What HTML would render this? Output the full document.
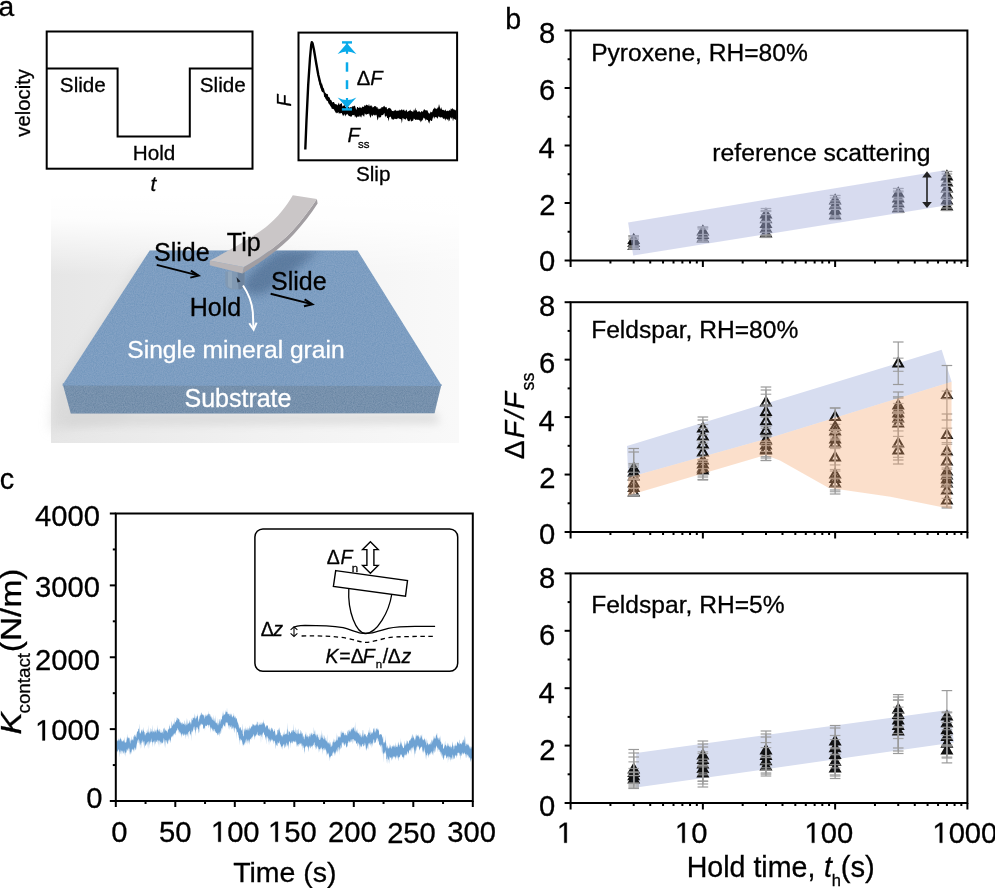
<!DOCTYPE html>
<html><head><meta charset="utf-8"><style>
html,body{margin:0;padding:0;background:#fff;}
body{width:995px;height:888px;overflow:hidden;}
svg{display:block;font-family:"Liberation Sans", sans-serif;will-change:transform;}
text{stroke:#000;stroke-width:0.3px;}
text[fill="#fff"]{stroke:#fff;}
path.one{stroke:#000;stroke-width:0.3px;}
</style></head><body>
<svg width="995" height="888" viewBox="0 0 995 888">
<text x="-1.40" y="15.90" font-size="28.2" fill="#000" >a</text>
<rect x="46.7" y="31.5" width="205.8" height="137.2" fill="none" stroke="#000" stroke-width="2"/>
<polyline points="46.70,68.40 117.60,68.40 117.60,136.40 189.80,136.40 189.80,68.40 252.50,68.40" fill="none" stroke="#000" stroke-width="2" stroke-linejoin="miter"/>
<text x="59.86" y="92.00" font-size="20.7" fill="#000" >Slide</text>
<text x="132.70" y="160.10" font-size="20.7" fill="#000" >Hold</text>
<text x="199.76" y="92.20" font-size="20.7" fill="#000" >Slide</text>
<text x="150.46" y="190.60" font-size="20.7" fill="#000" font-style="italic" >t</text>
<text transform="translate(30.10,136.67) rotate(-90) scale(0.9939,1)" font-size="20.4" fill="#000">velocity</text>
<rect x="298.5" y="32.6" width="158.6" height="127.7" fill="none" stroke="#000" stroke-width="2"/>
<polyline points="305.30,149.50 306.50,120.00 308.20,85.00 310.00,58.00 311.20,45.00 311.80,42.20 312.60,43.50 314.00,50.00 316.00,62.00 318.30,75.00 320.50,84.00 323.00,91.00" fill="none" stroke="#000" stroke-width="2.4" stroke-linejoin="round"/>
<polygon points="313.0,43.5 313.7,45.8 314.4,51.5 315.1,55.3 315.8,60.2 316.5,64.0 317.2,67.2 317.9,72.2 318.6,76.0 319.3,78.4 320.0,79.4 320.7,81.9 321.4,84.3 322.1,83.4 322.8,87.2 323.5,87.9 324.2,89.6 324.9,92.3 325.6,93.0 326.3,93.8 327.0,94.1 327.7,93.9 328.4,97.0 329.1,97.1 329.8,98.0 330.5,100.1 331.2,100.0 331.9,101.4 332.6,102.4 333.3,102.1 334.0,102.0 334.7,103.7 335.4,104.0 336.1,104.6 336.8,104.2 337.5,105.4 338.2,104.1 338.9,102.5 339.6,105.0 340.3,103.9 341.0,103.4 341.7,103.0 342.4,106.6 343.1,105.9 343.8,105.5 344.5,104.6 345.2,107.0 345.9,106.8 346.6,105.8 347.3,106.1 348.0,106.8 348.7,107.2 349.4,107.7 350.1,107.5 350.8,107.1 351.5,107.6 352.2,106.3 352.9,106.6 353.6,106.3 354.3,105.7 355.0,105.7 355.7,108.3 356.4,109.9 357.1,107.0 357.8,107.0 358.5,108.1 359.2,107.9 359.9,106.5 360.6,107.7 361.3,108.3 362.0,107.0 362.7,106.5 363.4,107.1 364.1,106.5 364.8,104.8 365.5,105.9 366.2,104.8 366.9,104.7 367.6,105.2 368.3,106.1 369.0,103.7 369.7,106.4 370.4,105.2 371.1,106.5 371.8,105.1 372.5,107.6 373.2,107.3 373.9,106.8 374.6,106.0 375.3,106.3 376.0,106.3 376.7,107.5 377.4,107.1 378.1,109.5 378.8,108.3 379.5,109.2 380.2,108.0 380.9,109.0 381.6,107.0 382.3,107.0 383.0,107.4 383.7,106.0 384.4,105.7 385.1,107.6 385.8,106.9 386.5,106.9 387.2,109.6 387.9,108.7 388.6,108.1 389.3,107.8 390.0,108.5 390.7,108.6 391.4,109.7 392.1,111.0 392.8,111.1 393.5,111.3 394.2,109.9 394.9,110.9 395.6,109.4 396.3,111.3 397.0,110.3 397.7,111.0 398.4,110.6 399.1,110.8 399.8,109.5 400.5,110.5 401.2,109.9 401.9,108.9 402.6,110.5 403.3,110.1 404.0,109.2 404.7,111.0 405.4,111.3 406.1,109.6 406.8,110.3 407.5,112.3 408.2,110.9 408.9,111.2 409.6,110.6 410.3,109.5 411.0,111.3 411.7,111.0 412.4,111.6 413.1,112.1 413.8,109.6 414.5,110.9 415.2,107.5 415.9,110.8 416.6,109.8 417.3,111.9 418.0,111.5 418.7,111.6 419.4,110.9 420.1,112.4 420.8,112.1 421.5,110.9 422.2,111.6 422.9,111.7 423.6,110.0 424.3,108.9 425.0,110.3 425.7,110.3 426.4,110.4 427.1,109.9 427.8,111.3 428.5,113.0 429.2,113.6 429.9,113.5 430.6,111.5 431.3,111.9 432.0,112.4 432.7,110.4 433.4,108.7 434.1,108.7 434.8,107.2 435.5,108.8 436.2,108.4 436.9,109.2 437.6,107.6 438.3,107.6 439.0,104.1 439.7,106.6 440.4,109.5 441.1,107.1 441.8,109.2 442.5,109.9 443.2,109.8 443.9,110.3 444.6,110.7 445.3,109.3 446.0,110.7 446.7,111.3 447.4,110.7 448.1,110.6 448.8,111.2 449.5,109.8 450.2,110.9 450.9,108.2 451.6,109.5 452.3,107.7 453.0,109.6 453.7,109.2 454.4,109.5 455.1,110.5 455.8,110.0 456.5,107.8 456.5,117.7 455.8,120.1 455.1,119.6 454.4,118.9 453.7,118.6 453.0,121.6 452.3,117.2 451.6,119.1 450.9,116.9 450.2,118.3 449.5,120.4 448.8,121.5 448.1,118.6 447.4,120.3 446.7,118.9 446.0,118.4 445.3,120.7 444.6,118.5 443.9,118.6 443.2,119.0 442.5,117.6 441.8,117.3 441.1,117.3 440.4,117.4 439.7,117.3 439.0,116.5 438.3,116.5 437.6,119.0 436.9,117.2 436.2,117.6 435.5,116.9 434.8,117.2 434.1,118.9 433.4,116.3 432.7,118.2 432.0,120.9 431.3,120.9 430.6,119.9 429.9,121.0 429.2,123.7 428.5,122.0 427.8,119.9 427.1,119.9 426.4,119.2 425.7,121.0 425.0,118.5 424.3,118.4 423.6,117.6 422.9,119.5 422.2,120.6 421.5,120.8 420.8,122.5 420.1,120.3 419.4,120.4 418.7,120.0 418.0,119.4 417.3,120.0 416.6,119.6 415.9,120.0 415.2,119.8 414.5,119.0 413.8,118.5 413.1,120.8 412.4,120.7 411.7,121.3 411.0,121.6 410.3,119.0 409.6,121.2 408.9,120.9 408.2,121.3 407.5,120.2 406.8,118.2 406.1,118.5 405.4,120.1 404.7,118.7 404.0,119.4 403.3,118.2 402.6,118.1 401.9,123.4 401.2,119.5 400.5,119.0 399.8,118.9 399.1,118.5 398.4,118.3 397.7,118.5 397.0,118.7 396.3,119.3 395.6,118.7 394.9,119.2 394.2,118.6 393.5,120.0 392.8,118.9 392.1,119.7 391.4,118.6 390.7,116.5 390.0,116.9 389.3,117.2 388.6,121.5 387.9,118.0 387.2,118.1 386.5,115.7 385.8,116.1 385.1,117.5 384.4,113.1 383.7,114.0 383.0,115.3 382.3,114.9 381.6,114.9 380.9,117.3 380.2,117.3 379.5,117.7 378.8,116.5 378.1,118.9 377.4,120.5 376.7,115.5 376.0,114.6 375.3,115.4 374.6,115.5 373.9,114.6 373.2,114.9 372.5,116.4 371.8,114.5 371.1,116.3 370.4,118.1 369.7,115.7 369.0,113.2 368.3,114.2 367.6,113.9 366.9,114.2 366.2,114.7 365.5,114.2 364.8,113.2 364.1,116.9 363.4,115.8 362.7,115.4 362.0,114.6 361.3,117.6 360.6,116.9 359.9,115.2 359.2,117.0 358.5,116.5 357.8,116.7 357.1,116.5 356.4,118.2 355.7,116.1 355.0,117.4 354.3,114.7 353.6,115.2 352.9,115.1 352.2,115.2 351.5,116.8 350.8,116.5 350.1,116.6 349.4,116.1 348.7,115.7 348.0,115.0 347.3,113.8 346.6,114.4 345.9,115.0 345.2,116.5 344.5,114.0 343.8,114.9 343.1,116.3 342.4,114.4 341.7,113.1 341.0,113.1 340.3,113.6 339.6,113.3 338.9,113.8 338.2,111.7 337.5,113.3 336.8,112.6 336.1,113.6 335.4,112.1 334.7,111.0 334.0,109.6 333.3,109.1 332.6,108.7 331.9,109.0 331.2,107.1 330.5,106.2 329.8,105.0 329.1,104.0 328.4,103.3 327.7,100.8 327.0,101.3 326.3,99.7 325.6,98.9 324.9,97.2 324.2,97.1 323.5,92.7 322.8,92.2 322.1,91.9 321.4,90.1 320.7,88.2 320.0,85.5 319.3,83.2 318.6,80.0 317.9,76.0 317.2,72.0 316.5,68.1 315.8,64.4 315.1,59.8 314.4,55.1 313.7,49.6 313.0,48.4" fill="#000"/>
<line x1="347.00" y1="62.30" x2="347.00" y2="71.70" stroke="#0aabea" stroke-width="2.5" />
<line x1="347.00" y1="80.20" x2="347.00" y2="89.10" stroke="#0aabea" stroke-width="2.5" />
<line x1="342.00" y1="42.40" x2="352.00" y2="42.40" stroke="#0aabea" stroke-width="2.4" />
<line x1="341.90" y1="109.40" x2="352.00" y2="109.40" stroke="#0aabea" stroke-width="2.4" />
<line x1="347.00" y1="43.00" x2="347.00" y2="53.80" stroke="#0aabea" stroke-width="2.2" />
<line x1="347.00" y1="98.00" x2="347.00" y2="109.00" stroke="#0aabea" stroke-width="2.2" />
<path d="M347.0,43.2 Q351.6,48.6 356.4,53.9 Q351.0,51.2 347.0,51.4 Q343.0,51.2 337.6,53.9 Q342.4,48.6 347.0,43.2 Z" fill="#0aabea"/>
<path d="M347.0,108.2 Q351.6,102.8 356.4,97.6 Q351.0,100.3 347.0,100.1 Q343.0,100.3 337.6,97.6 Q342.4,102.8 347.0,108.2 Z" fill="#0aabea"/>
<text x="356.70" y="84.80" font-size="20.2" fill="#000" >Δ</text>
<text x="370.28" y="84.80" font-size="20.2" fill="#000" font-style="italic" >F</text>
<text x="347.38" y="141.60" font-size="20.2" fill="#000" font-style="italic" >F</text>
<text x="357.88" y="148.00" font-size="11.5" fill="#000" >ss</text>
<text x="355.96" y="181.00" font-size="20.7" fill="#000" >Slip</text>
<text transform="translate(290.80,106.39) rotate(-90) scale(0.9554,1)" font-size="20.2" fill="#000" font-style="italic">F</text>
<defs>
<linearGradient id="bgH" x1="0" y1="0" x2="1" y2="0">
 <stop offset="0" stop-color="#e6e6e6"/><stop offset="0.5" stop-color="#f1f1f1"/><stop offset="1" stop-color="#f9f9f9"/>
</linearGradient>
<linearGradient id="bgV" x1="0" y1="0" x2="0" y2="1">
 <stop offset="0" stop-color="#ffffff" stop-opacity="1"/><stop offset="0.3" stop-color="#ffffff" stop-opacity="0.9"/><stop offset="1" stop-color="#ffffff" stop-opacity="0"/>
</linearGradient>
<clipPath id="slabTop"><polygon points="149.7,250.5 357.5,250.5 441.9,385.9 62.2,385.6"/></clipPath>
<filter id="blur6" x="-50%" y="-50%" width="200%" height="200%"><feGaussianBlur stdDeviation="6"/></filter>
<filter id="blur4" x="-50%" y="-50%" width="200%" height="200%"><feGaussianBlur stdDeviation="4"/></filter>
<filter id="blur2" x="-50%" y="-50%" width="200%" height="200%"><feGaussianBlur stdDeviation="2"/></filter>
<filter id="grain" x="0" y="0" width="100%" height="100%">
 <feTurbulence type="fractalNoise" baseFrequency="0.9" numOctaves="2" seed="4" result="n"/>
 <feColorMatrix in="n" type="matrix" values="0 0 0 0 0.5  0 0 0 0 0.6  0 0 0 0 0.75  0 0 0 0.35 0" result="c"/>
 <feComposite in="c" in2="SourceGraphic" operator="in" result="g"/>
 <feMerge><feMergeNode in="SourceGraphic"/><feMergeNode in="g"/></feMerge>
</filter>
</defs>
<rect x="51" y="195" width="408" height="248" fill="url(#bgH)"/>
<rect x="51" y="195" width="408" height="80" fill="url(#bgV)"/>
<polygon points="140,262 150,258 300,258 300,300 120,420 50,430 55,390" fill="#d0d0d0" filter="url(#blur6)" opacity="0.55"/>
<polygon points="70,412 436,412 440,424 64,426" fill="#d6d6d6" filter="url(#blur4)" opacity="0.7"/>
<polygon points="62.6,383.6 441.5,383.9 434.5,413.2 70.8,413.6" fill="#61809f" filter="url(#grain)"/>
<polygon points="149.7,250.5 357.5,250.5 441.9,385.9 62.2,385.6" fill="#6a92ba" filter="url(#grain)"/>
<path d="M244,282 C252,270 266,258 282,250 L318,251 C305,262 290,276 270,290 C260,296 250,296 244,290 Z" fill="#2c476a" opacity="0.38" filter="url(#blur4)" clip-path="url(#slabTop)"/>
<path d="M225.3,271.5 L244.6,271.5 L244.6,283.5 Q244.6,289.6 235,289.6 Q225.3,289.6 225.3,283.5 Z" fill="#8199b3"/>
<path d="M237.5,271.5 L244.6,271.5 L244.6,283.5 Q244.6,289.2 238.5,289.5 Z" fill="#6d849f"/>
<path d="M228,271.5 L232,271.5 L232,288.5 Q229,288 228,286 Z" fill="#97abc1" opacity="0.7"/>
<path d="M236.5,277 L240.5,281.5 L237.5,282.5 Z" fill="#1e2530"/>
<path d="M243.8,267.1 C262,257 280,244 293,230 C302,220 310,209 316.9,198.9 L317.6,203.5 C311,214 303,224 294,234 C281,248 263,261 242.5,273.6 Z" fill="#a29ea2"/>
<path d="M209.8,260.6 L243.8,267.1 L242.5,273.6 L209.8,265.2 Z" fill="#b9b5b7"/>
<path d="M209.8,260.6 C228,251 250,239 266,227 C278,217 286,207 292.8,195.2 L316.9,198.9 C310,209 302,220 293,230 C280,244 262,257 243.8,267.1 Z" fill="#cac6c7"/>
<text x="226.84" y="250.80" font-size="25.0" fill="#000" >Tip</text>
<text x="154.06" y="261.00" font-size="25.0" fill="#000" >Slide</text>
<text x="270.96" y="289.60" font-size="25.0" fill="#000" >Slide</text>
<text x="189.75" y="315.60" font-size="25.0" fill="#000" >Hold</text>
<text x="127.28" y="358.10" font-size="24.6" fill="#fff" >Single mineral grain</text>
<text x="184.46" y="406.80" font-size="25.0" fill="#fff" >Substrate</text>
<line x1="156.70" y1="264.90" x2="198.00" y2="275.40" stroke="#000" stroke-width="2.0" />
<polyline points="190.90,270.60 198.60,275.60 190.30,277.60" fill="none" stroke="#000" stroke-width="2.0" />
<line x1="270.60" y1="293.70" x2="311.80" y2="304.10" stroke="#000" stroke-width="2.0" />
<polyline points="304.60,299.30 312.40,304.30 304.00,306.30" fill="none" stroke="#000" stroke-width="2.0" />
<path d="M243,285.5 Q251.5,298 252.8,312 L253.5,328.5" fill="none" stroke="#fff" stroke-width="2"/>
<polyline points="249.30,323.30 253.60,329.70 256.60,322.60" fill="none" stroke="#fff" stroke-width="2" />
<text x="505.26" y="29.00" font-size="28.6" fill="#000" >b</text>
<line x1="564.60" y1="260.50" x2="570.60" y2="260.50" stroke="#000" stroke-width="2" />
<line x1="567.60" y1="231.75" x2="570.60" y2="231.75" stroke="#000" stroke-width="2" />
<line x1="564.60" y1="203.00" x2="570.60" y2="203.00" stroke="#000" stroke-width="2" />
<line x1="567.60" y1="174.25" x2="570.60" y2="174.25" stroke="#000" stroke-width="2" />
<line x1="564.60" y1="145.50" x2="570.60" y2="145.50" stroke="#000" stroke-width="2" />
<line x1="567.60" y1="116.75" x2="570.60" y2="116.75" stroke="#000" stroke-width="2" />
<line x1="564.60" y1="88.00" x2="570.60" y2="88.00" stroke="#000" stroke-width="2" />
<line x1="567.60" y1="59.25" x2="570.60" y2="59.25" stroke="#000" stroke-width="2" />
<line x1="564.60" y1="30.50" x2="570.60" y2="30.50" stroke="#000" stroke-width="2" />
<text x="538.90" y="270.54" font-size="29.2" fill="#000" >0</text>
<text x="539.23" y="215.14" font-size="29.2" fill="#000" >2</text>
<text x="538.62" y="157.64" font-size="29.2" fill="#000" >4</text>
<text x="539.04" y="100.14" font-size="29.2" fill="#000" >6</text>
<text x="539.03" y="42.64" font-size="29.2" fill="#000" >8</text>
<line x1="570.60" y1="260.50" x2="570.60" y2="267.00" stroke="#000" stroke-width="2" />
<line x1="610.42" y1="260.50" x2="610.42" y2="263.50" stroke="#000" stroke-width="2" />
<line x1="633.71" y1="260.50" x2="633.71" y2="263.50" stroke="#000" stroke-width="2" />
<line x1="650.23" y1="260.50" x2="650.23" y2="263.50" stroke="#000" stroke-width="2" />
<line x1="663.05" y1="260.50" x2="663.05" y2="263.50" stroke="#000" stroke-width="2" />
<line x1="673.52" y1="260.50" x2="673.52" y2="263.50" stroke="#000" stroke-width="2" />
<line x1="682.38" y1="260.50" x2="682.38" y2="263.50" stroke="#000" stroke-width="2" />
<line x1="690.05" y1="260.50" x2="690.05" y2="263.50" stroke="#000" stroke-width="2" />
<line x1="696.81" y1="260.50" x2="696.81" y2="263.50" stroke="#000" stroke-width="2" />
<line x1="702.87" y1="260.50" x2="702.87" y2="267.00" stroke="#000" stroke-width="2" />
<line x1="742.68" y1="260.50" x2="742.68" y2="263.50" stroke="#000" stroke-width="2" />
<line x1="765.97" y1="260.50" x2="765.97" y2="263.50" stroke="#000" stroke-width="2" />
<line x1="782.50" y1="260.50" x2="782.50" y2="263.50" stroke="#000" stroke-width="2" />
<line x1="795.32" y1="260.50" x2="795.32" y2="263.50" stroke="#000" stroke-width="2" />
<line x1="805.79" y1="260.50" x2="805.79" y2="263.50" stroke="#000" stroke-width="2" />
<line x1="814.64" y1="260.50" x2="814.64" y2="263.50" stroke="#000" stroke-width="2" />
<line x1="822.32" y1="260.50" x2="822.32" y2="263.50" stroke="#000" stroke-width="2" />
<line x1="829.08" y1="260.50" x2="829.08" y2="263.50" stroke="#000" stroke-width="2" />
<line x1="835.13" y1="260.50" x2="835.13" y2="267.00" stroke="#000" stroke-width="2" />
<line x1="874.95" y1="260.50" x2="874.95" y2="263.50" stroke="#000" stroke-width="2" />
<line x1="898.24" y1="260.50" x2="898.24" y2="263.50" stroke="#000" stroke-width="2" />
<line x1="914.77" y1="260.50" x2="914.77" y2="263.50" stroke="#000" stroke-width="2" />
<line x1="927.58" y1="260.50" x2="927.58" y2="263.50" stroke="#000" stroke-width="2" />
<line x1="938.06" y1="260.50" x2="938.06" y2="263.50" stroke="#000" stroke-width="2" />
<line x1="946.91" y1="260.50" x2="946.91" y2="263.50" stroke="#000" stroke-width="2" />
<line x1="954.58" y1="260.50" x2="954.58" y2="263.50" stroke="#000" stroke-width="2" />
<line x1="961.35" y1="260.50" x2="961.35" y2="263.50" stroke="#000" stroke-width="2" />
<line x1="967.40" y1="260.50" x2="967.40" y2="267.00" stroke="#000" stroke-width="2" />
<rect x="570.60" y="30.50" width="396.80" height="230.00" fill="none" stroke="#000" stroke-width="2"/>
<line x1="564.60" y1="532.00" x2="570.60" y2="532.00" stroke="#000" stroke-width="2" />
<line x1="567.60" y1="503.27" x2="570.60" y2="503.27" stroke="#000" stroke-width="2" />
<line x1="564.60" y1="474.55" x2="570.60" y2="474.55" stroke="#000" stroke-width="2" />
<line x1="567.60" y1="445.82" x2="570.60" y2="445.82" stroke="#000" stroke-width="2" />
<line x1="564.60" y1="417.10" x2="570.60" y2="417.10" stroke="#000" stroke-width="2" />
<line x1="567.60" y1="388.38" x2="570.60" y2="388.38" stroke="#000" stroke-width="2" />
<line x1="564.60" y1="359.65" x2="570.60" y2="359.65" stroke="#000" stroke-width="2" />
<line x1="567.60" y1="330.92" x2="570.60" y2="330.92" stroke="#000" stroke-width="2" />
<line x1="564.60" y1="302.20" x2="570.60" y2="302.20" stroke="#000" stroke-width="2" />
<text x="538.90" y="544.04" font-size="29.2" fill="#000" >0</text>
<text x="539.23" y="488.19" font-size="29.2" fill="#000" >2</text>
<text x="538.62" y="430.74" font-size="29.2" fill="#000" >4</text>
<text x="539.04" y="373.29" font-size="29.2" fill="#000" >6</text>
<text x="539.03" y="315.84" font-size="29.2" fill="#000" >8</text>
<line x1="570.60" y1="532.00" x2="570.60" y2="538.50" stroke="#000" stroke-width="2" />
<line x1="610.42" y1="532.00" x2="610.42" y2="535.00" stroke="#000" stroke-width="2" />
<line x1="633.71" y1="532.00" x2="633.71" y2="535.00" stroke="#000" stroke-width="2" />
<line x1="650.23" y1="532.00" x2="650.23" y2="535.00" stroke="#000" stroke-width="2" />
<line x1="663.05" y1="532.00" x2="663.05" y2="535.00" stroke="#000" stroke-width="2" />
<line x1="673.52" y1="532.00" x2="673.52" y2="535.00" stroke="#000" stroke-width="2" />
<line x1="682.38" y1="532.00" x2="682.38" y2="535.00" stroke="#000" stroke-width="2" />
<line x1="690.05" y1="532.00" x2="690.05" y2="535.00" stroke="#000" stroke-width="2" />
<line x1="696.81" y1="532.00" x2="696.81" y2="535.00" stroke="#000" stroke-width="2" />
<line x1="702.87" y1="532.00" x2="702.87" y2="538.50" stroke="#000" stroke-width="2" />
<line x1="742.68" y1="532.00" x2="742.68" y2="535.00" stroke="#000" stroke-width="2" />
<line x1="765.97" y1="532.00" x2="765.97" y2="535.00" stroke="#000" stroke-width="2" />
<line x1="782.50" y1="532.00" x2="782.50" y2="535.00" stroke="#000" stroke-width="2" />
<line x1="795.32" y1="532.00" x2="795.32" y2="535.00" stroke="#000" stroke-width="2" />
<line x1="805.79" y1="532.00" x2="805.79" y2="535.00" stroke="#000" stroke-width="2" />
<line x1="814.64" y1="532.00" x2="814.64" y2="535.00" stroke="#000" stroke-width="2" />
<line x1="822.32" y1="532.00" x2="822.32" y2="535.00" stroke="#000" stroke-width="2" />
<line x1="829.08" y1="532.00" x2="829.08" y2="535.00" stroke="#000" stroke-width="2" />
<line x1="835.13" y1="532.00" x2="835.13" y2="538.50" stroke="#000" stroke-width="2" />
<line x1="874.95" y1="532.00" x2="874.95" y2="535.00" stroke="#000" stroke-width="2" />
<line x1="898.24" y1="532.00" x2="898.24" y2="535.00" stroke="#000" stroke-width="2" />
<line x1="914.77" y1="532.00" x2="914.77" y2="535.00" stroke="#000" stroke-width="2" />
<line x1="927.58" y1="532.00" x2="927.58" y2="535.00" stroke="#000" stroke-width="2" />
<line x1="938.06" y1="532.00" x2="938.06" y2="535.00" stroke="#000" stroke-width="2" />
<line x1="946.91" y1="532.00" x2="946.91" y2="535.00" stroke="#000" stroke-width="2" />
<line x1="954.58" y1="532.00" x2="954.58" y2="535.00" stroke="#000" stroke-width="2" />
<line x1="961.35" y1="532.00" x2="961.35" y2="535.00" stroke="#000" stroke-width="2" />
<line x1="967.40" y1="532.00" x2="967.40" y2="538.50" stroke="#000" stroke-width="2" />
<rect x="570.60" y="302.20" width="396.80" height="229.80" fill="none" stroke="#000" stroke-width="2"/>
<line x1="564.60" y1="803.00" x2="570.60" y2="803.00" stroke="#000" stroke-width="2" />
<line x1="567.60" y1="774.30" x2="570.60" y2="774.30" stroke="#000" stroke-width="2" />
<line x1="564.60" y1="745.60" x2="570.60" y2="745.60" stroke="#000" stroke-width="2" />
<line x1="567.60" y1="716.90" x2="570.60" y2="716.90" stroke="#000" stroke-width="2" />
<line x1="564.60" y1="688.20" x2="570.60" y2="688.20" stroke="#000" stroke-width="2" />
<line x1="567.60" y1="659.50" x2="570.60" y2="659.50" stroke="#000" stroke-width="2" />
<line x1="564.60" y1="630.80" x2="570.60" y2="630.80" stroke="#000" stroke-width="2" />
<line x1="567.60" y1="602.10" x2="570.60" y2="602.10" stroke="#000" stroke-width="2" />
<line x1="564.60" y1="573.40" x2="570.60" y2="573.40" stroke="#000" stroke-width="2" />
<text x="538.90" y="815.84" font-size="29.2" fill="#000" >0</text>
<text x="539.23" y="759.94" font-size="29.2" fill="#000" >2</text>
<text x="538.62" y="702.54" font-size="29.2" fill="#000" >4</text>
<text x="539.04" y="645.14" font-size="29.2" fill="#000" >6</text>
<text x="539.03" y="587.74" font-size="29.2" fill="#000" >8</text>
<line x1="570.60" y1="803.00" x2="570.60" y2="809.50" stroke="#000" stroke-width="2" />
<line x1="610.42" y1="803.00" x2="610.42" y2="806.00" stroke="#000" stroke-width="2" />
<line x1="633.71" y1="803.00" x2="633.71" y2="806.00" stroke="#000" stroke-width="2" />
<line x1="650.23" y1="803.00" x2="650.23" y2="806.00" stroke="#000" stroke-width="2" />
<line x1="663.05" y1="803.00" x2="663.05" y2="806.00" stroke="#000" stroke-width="2" />
<line x1="673.52" y1="803.00" x2="673.52" y2="806.00" stroke="#000" stroke-width="2" />
<line x1="682.38" y1="803.00" x2="682.38" y2="806.00" stroke="#000" stroke-width="2" />
<line x1="690.05" y1="803.00" x2="690.05" y2="806.00" stroke="#000" stroke-width="2" />
<line x1="696.81" y1="803.00" x2="696.81" y2="806.00" stroke="#000" stroke-width="2" />
<line x1="702.87" y1="803.00" x2="702.87" y2="809.50" stroke="#000" stroke-width="2" />
<line x1="742.68" y1="803.00" x2="742.68" y2="806.00" stroke="#000" stroke-width="2" />
<line x1="765.97" y1="803.00" x2="765.97" y2="806.00" stroke="#000" stroke-width="2" />
<line x1="782.50" y1="803.00" x2="782.50" y2="806.00" stroke="#000" stroke-width="2" />
<line x1="795.32" y1="803.00" x2="795.32" y2="806.00" stroke="#000" stroke-width="2" />
<line x1="805.79" y1="803.00" x2="805.79" y2="806.00" stroke="#000" stroke-width="2" />
<line x1="814.64" y1="803.00" x2="814.64" y2="806.00" stroke="#000" stroke-width="2" />
<line x1="822.32" y1="803.00" x2="822.32" y2="806.00" stroke="#000" stroke-width="2" />
<line x1="829.08" y1="803.00" x2="829.08" y2="806.00" stroke="#000" stroke-width="2" />
<line x1="835.13" y1="803.00" x2="835.13" y2="809.50" stroke="#000" stroke-width="2" />
<line x1="874.95" y1="803.00" x2="874.95" y2="806.00" stroke="#000" stroke-width="2" />
<line x1="898.24" y1="803.00" x2="898.24" y2="806.00" stroke="#000" stroke-width="2" />
<line x1="914.77" y1="803.00" x2="914.77" y2="806.00" stroke="#000" stroke-width="2" />
<line x1="927.58" y1="803.00" x2="927.58" y2="806.00" stroke="#000" stroke-width="2" />
<line x1="938.06" y1="803.00" x2="938.06" y2="806.00" stroke="#000" stroke-width="2" />
<line x1="946.91" y1="803.00" x2="946.91" y2="806.00" stroke="#000" stroke-width="2" />
<line x1="954.58" y1="803.00" x2="954.58" y2="806.00" stroke="#000" stroke-width="2" />
<line x1="961.35" y1="803.00" x2="961.35" y2="806.00" stroke="#000" stroke-width="2" />
<line x1="967.40" y1="803.00" x2="967.40" y2="809.50" stroke="#000" stroke-width="2" />
<rect x="570.60" y="573.40" width="396.80" height="229.60" fill="none" stroke="#000" stroke-width="2"/>
<path class="one" transform="translate(556.89,842.80) scale(0.01426,-0.01426)" d="M515,0 L515,1237 L197,1010 L197,1180 L530,1409 L696,1409 L696,0 Z" fill="#000" vector-effect="non-scaling-stroke"/>
<path class="one" transform="translate(674.89,842.80) scale(0.01426,-0.01426)" d="M515,0 L515,1237 L197,1010 L197,1180 L530,1409 L696,1409 L696,0 Z" fill="#000" vector-effect="non-scaling-stroke"/>
<text x="691.13" y="842.80" font-size="29.2" fill="#000" >0</text>
<path class="one" transform="translate(804.49,842.80) scale(0.01426,-0.01426)" d="M515,0 L515,1237 L197,1010 L197,1180 L530,1409 L696,1409 L696,0 Z" fill="#000" vector-effect="non-scaling-stroke"/>
<text x="820.73" y="842.80" font-size="29.2" fill="#000" >00</text>
<path class="one" transform="translate(932.39,842.80) scale(0.01426,-0.01426)" d="M515,0 L515,1237 L197,1010 L197,1180 L530,1409 L696,1409 L696,0 Z" fill="#000" vector-effect="non-scaling-stroke"/>
<text x="948.63" y="842.80" font-size="29.2" fill="#000" >000</text>
<text x="686.65" y="876.80" font-size="28.6" fill="#000" >Hold time,</text>
<text x="824.10" y="876.90" font-size="28.6" fill="#000" font-style="italic" >t</text>
<text x="831.86" y="886.40" font-size="16.5" fill="#000" >h</text>
<text x="840.79" y="876.80" font-size="29.2" fill="#000" >(s)</text>
<text transform="translate(523.60,459.34) rotate(-90)" font-size="28.3" fill="#000">Δ</text>
<text transform="translate(523.60,438.37) rotate(-90)" font-size="28.3" fill="#000" font-style="italic">F</text>
<text transform="translate(523.60,418.70) rotate(-90)" font-size="28.3" fill="#000" font-style="italic">/</text>
<text transform="translate(523.60,409.27) rotate(-90)" font-size="28.3" fill="#000" font-style="italic">F</text>
<text transform="translate(534.20,390.50) rotate(-90)" font-size="17.8" fill="#000">ss</text>
<polygon points="633.71,234.80 638.41,243.03 629.01,243.03" fill="#3c3c40" stroke="#111" stroke-width="2.1" stroke-linejoin="miter"/>
<polygon points="633.71,237.80 638.41,246.03 629.01,246.03" fill="#3c3c40" stroke="#111" stroke-width="2.1" stroke-linejoin="miter"/>
<polygon points="633.71,240.80 638.41,249.03 629.01,249.03" fill="#3c3c40" stroke="#111" stroke-width="2.1" stroke-linejoin="miter"/>
<line x1="633.71" y1="236.00" x2="633.71" y2="245.86" stroke="#9a9a9a" stroke-width="1.2" stroke-opacity="0.85"/>
<line x1="628.41" y1="236.00" x2="639.01" y2="236.00" stroke="#9a9a9a" stroke-width="1.2" stroke-opacity="0.85"/>
<line x1="628.41" y1="245.86" x2="639.01" y2="245.86" stroke="#9a9a9a" stroke-width="1.2" stroke-opacity="0.85"/>
<line x1="633.71" y1="236.00" x2="633.71" y2="248.29" stroke="#9a9a9a" stroke-width="1.2" stroke-opacity="0.85"/>
<line x1="628.41" y1="236.00" x2="639.01" y2="236.00" stroke="#9a9a9a" stroke-width="1.2" stroke-opacity="0.85"/>
<line x1="628.41" y1="248.29" x2="639.01" y2="248.29" stroke="#9a9a9a" stroke-width="1.2" stroke-opacity="0.85"/>
<line x1="633.71" y1="239.45" x2="633.71" y2="249.00" stroke="#9a9a9a" stroke-width="1.2" stroke-opacity="0.85"/>
<line x1="628.41" y1="239.45" x2="639.01" y2="239.45" stroke="#9a9a9a" stroke-width="1.2" stroke-opacity="0.85"/>
<line x1="628.41" y1="249.00" x2="639.01" y2="249.00" stroke="#9a9a9a" stroke-width="1.2" stroke-opacity="0.85"/>
<line x1="633.71" y1="236.00" x2="633.71" y2="249.00" stroke="#9a9a9a" stroke-width="1.2" />
<line x1="628.41" y1="236.00" x2="639.01" y2="236.00" stroke="#9a9a9a" stroke-width="1.2" />
<line x1="628.41" y1="249.00" x2="639.01" y2="249.00" stroke="#9a9a9a" stroke-width="1.2" />
<line x1="633.71" y1="238.00" x2="633.71" y2="247.00" stroke="#9a9a9a" stroke-width="1.2" />
<line x1="628.41" y1="238.00" x2="639.01" y2="238.00" stroke="#9a9a9a" stroke-width="1.2" />
<line x1="628.41" y1="247.00" x2="639.01" y2="247.00" stroke="#9a9a9a" stroke-width="1.2" />
<polygon points="702.87,226.30 707.57,234.53 698.17,234.53" fill="#3c3c40" stroke="#111" stroke-width="2.1" stroke-linejoin="miter"/>
<polygon points="702.87,229.80 707.57,238.03 698.17,238.03" fill="#3c3c40" stroke="#111" stroke-width="2.1" stroke-linejoin="miter"/>
<polygon points="702.87,233.30 707.57,241.53 698.17,241.53" fill="#3c3c40" stroke="#111" stroke-width="2.1" stroke-linejoin="miter"/>
<line x1="702.87" y1="227.00" x2="702.87" y2="237.07" stroke="#9a9a9a" stroke-width="1.2" stroke-opacity="0.85"/>
<line x1="697.57" y1="227.00" x2="708.17" y2="227.00" stroke="#9a9a9a" stroke-width="1.2" stroke-opacity="0.85"/>
<line x1="697.57" y1="237.07" x2="708.17" y2="237.07" stroke="#9a9a9a" stroke-width="1.2" stroke-opacity="0.85"/>
<line x1="702.87" y1="227.72" x2="702.87" y2="242.00" stroke="#9a9a9a" stroke-width="1.2" stroke-opacity="0.85"/>
<line x1="697.57" y1="227.72" x2="708.17" y2="227.72" stroke="#9a9a9a" stroke-width="1.2" stroke-opacity="0.85"/>
<line x1="697.57" y1="242.00" x2="708.17" y2="242.00" stroke="#9a9a9a" stroke-width="1.2" stroke-opacity="0.85"/>
<line x1="702.87" y1="234.44" x2="702.87" y2="242.00" stroke="#9a9a9a" stroke-width="1.2" stroke-opacity="0.85"/>
<line x1="697.57" y1="234.44" x2="708.17" y2="234.44" stroke="#9a9a9a" stroke-width="1.2" stroke-opacity="0.85"/>
<line x1="697.57" y1="242.00" x2="708.17" y2="242.00" stroke="#9a9a9a" stroke-width="1.2" stroke-opacity="0.85"/>
<line x1="702.87" y1="227.00" x2="702.87" y2="242.00" stroke="#9a9a9a" stroke-width="1.2" />
<line x1="697.57" y1="227.00" x2="708.17" y2="227.00" stroke="#9a9a9a" stroke-width="1.2" />
<line x1="697.57" y1="242.00" x2="708.17" y2="242.00" stroke="#9a9a9a" stroke-width="1.2" />
<line x1="702.87" y1="229.00" x2="702.87" y2="240.00" stroke="#9a9a9a" stroke-width="1.2" />
<line x1="697.57" y1="229.00" x2="708.17" y2="229.00" stroke="#9a9a9a" stroke-width="1.2" />
<line x1="697.57" y1="240.00" x2="708.17" y2="240.00" stroke="#9a9a9a" stroke-width="1.2" />
<polygon points="765.97,209.30 770.67,217.53 761.27,217.53" fill="#3c3c40" stroke="#111" stroke-width="2.1" stroke-linejoin="miter"/>
<polygon points="765.97,214.05 770.67,222.28 761.27,222.28" fill="#3c3c40" stroke="#111" stroke-width="2.1" stroke-linejoin="miter"/>
<polygon points="765.97,218.80 770.67,227.03 761.27,227.03" fill="#3c3c40" stroke="#111" stroke-width="2.1" stroke-linejoin="miter"/>
<polygon points="765.97,223.55 770.67,231.78 761.27,231.78" fill="#3c3c40" stroke="#111" stroke-width="2.1" stroke-linejoin="miter"/>
<polygon points="765.97,228.30 770.67,236.53 761.27,236.53" fill="#3c3c40" stroke="#111" stroke-width="2.1" stroke-linejoin="miter"/>
<line x1="765.97" y1="210.46" x2="765.97" y2="221.86" stroke="#9a9a9a" stroke-width="1.2" stroke-opacity="0.85"/>
<line x1="760.67" y1="210.46" x2="771.27" y2="210.46" stroke="#9a9a9a" stroke-width="1.2" stroke-opacity="0.85"/>
<line x1="760.67" y1="221.86" x2="771.27" y2="221.86" stroke="#9a9a9a" stroke-width="1.2" stroke-opacity="0.85"/>
<line x1="765.97" y1="211.59" x2="765.97" y2="222.00" stroke="#9a9a9a" stroke-width="1.2" stroke-opacity="0.85"/>
<line x1="760.67" y1="211.59" x2="771.27" y2="211.59" stroke="#9a9a9a" stroke-width="1.2" stroke-opacity="0.85"/>
<line x1="760.67" y1="222.00" x2="771.27" y2="222.00" stroke="#9a9a9a" stroke-width="1.2" stroke-opacity="0.85"/>
<line x1="765.97" y1="214.61" x2="765.97" y2="232.29" stroke="#9a9a9a" stroke-width="1.2" stroke-opacity="0.85"/>
<line x1="760.67" y1="214.61" x2="771.27" y2="214.61" stroke="#9a9a9a" stroke-width="1.2" stroke-opacity="0.85"/>
<line x1="760.67" y1="232.29" x2="771.27" y2="232.29" stroke="#9a9a9a" stroke-width="1.2" stroke-opacity="0.85"/>
<line x1="765.97" y1="221.33" x2="765.97" y2="234.94" stroke="#9a9a9a" stroke-width="1.2" stroke-opacity="0.85"/>
<line x1="760.67" y1="221.33" x2="771.27" y2="221.33" stroke="#9a9a9a" stroke-width="1.2" stroke-opacity="0.85"/>
<line x1="760.67" y1="234.94" x2="771.27" y2="234.94" stroke="#9a9a9a" stroke-width="1.2" stroke-opacity="0.85"/>
<line x1="765.97" y1="229.06" x2="765.97" y2="236.09" stroke="#9a9a9a" stroke-width="1.2" stroke-opacity="0.85"/>
<line x1="760.67" y1="229.06" x2="771.27" y2="229.06" stroke="#9a9a9a" stroke-width="1.2" stroke-opacity="0.85"/>
<line x1="760.67" y1="236.09" x2="771.27" y2="236.09" stroke="#9a9a9a" stroke-width="1.2" stroke-opacity="0.85"/>
<line x1="765.97" y1="208.50" x2="765.97" y2="237.50" stroke="#9a9a9a" stroke-width="1.2" />
<line x1="760.67" y1="208.50" x2="771.27" y2="208.50" stroke="#9a9a9a" stroke-width="1.2" />
<line x1="760.67" y1="237.50" x2="771.27" y2="237.50" stroke="#9a9a9a" stroke-width="1.2" />
<line x1="765.97" y1="211.00" x2="765.97" y2="235.00" stroke="#9a9a9a" stroke-width="1.2" />
<line x1="760.67" y1="211.00" x2="771.27" y2="211.00" stroke="#9a9a9a" stroke-width="1.2" />
<line x1="760.67" y1="235.00" x2="771.27" y2="235.00" stroke="#9a9a9a" stroke-width="1.2" />
<polygon points="835.13,195.30 839.83,203.53 830.43,203.53" fill="#3c3c40" stroke="#111" stroke-width="2.1" stroke-linejoin="miter"/>
<polygon points="835.13,200.30 839.83,208.53 830.43,208.53" fill="#3c3c40" stroke="#111" stroke-width="2.1" stroke-linejoin="miter"/>
<polygon points="835.13,205.30 839.83,213.53 830.43,213.53" fill="#3c3c40" stroke="#111" stroke-width="2.1" stroke-linejoin="miter"/>
<polygon points="835.13,210.30 839.83,218.53 830.43,218.53" fill="#3c3c40" stroke="#111" stroke-width="2.1" stroke-linejoin="miter"/>
<line x1="835.13" y1="195.50" x2="835.13" y2="203.36" stroke="#9a9a9a" stroke-width="1.2" stroke-opacity="0.85"/>
<line x1="829.83" y1="195.50" x2="840.43" y2="195.50" stroke="#9a9a9a" stroke-width="1.2" stroke-opacity="0.85"/>
<line x1="829.83" y1="203.36" x2="840.43" y2="203.36" stroke="#9a9a9a" stroke-width="1.2" stroke-opacity="0.85"/>
<line x1="835.13" y1="200.86" x2="835.13" y2="209.45" stroke="#9a9a9a" stroke-width="1.2" stroke-opacity="0.85"/>
<line x1="829.83" y1="200.86" x2="840.43" y2="200.86" stroke="#9a9a9a" stroke-width="1.2" stroke-opacity="0.85"/>
<line x1="829.83" y1="209.45" x2="840.43" y2="209.45" stroke="#9a9a9a" stroke-width="1.2" stroke-opacity="0.85"/>
<line x1="835.13" y1="206.82" x2="835.13" y2="215.78" stroke="#9a9a9a" stroke-width="1.2" stroke-opacity="0.85"/>
<line x1="829.83" y1="206.82" x2="840.43" y2="206.82" stroke="#9a9a9a" stroke-width="1.2" stroke-opacity="0.85"/>
<line x1="829.83" y1="215.78" x2="840.43" y2="215.78" stroke="#9a9a9a" stroke-width="1.2" stroke-opacity="0.85"/>
<line x1="835.13" y1="209.36" x2="835.13" y2="219.50" stroke="#9a9a9a" stroke-width="1.2" stroke-opacity="0.85"/>
<line x1="829.83" y1="209.36" x2="840.43" y2="209.36" stroke="#9a9a9a" stroke-width="1.2" stroke-opacity="0.85"/>
<line x1="829.83" y1="219.50" x2="840.43" y2="219.50" stroke="#9a9a9a" stroke-width="1.2" stroke-opacity="0.85"/>
<line x1="835.13" y1="195.50" x2="835.13" y2="219.50" stroke="#9a9a9a" stroke-width="1.2" />
<line x1="829.83" y1="195.50" x2="840.43" y2="195.50" stroke="#9a9a9a" stroke-width="1.2" />
<line x1="829.83" y1="219.50" x2="840.43" y2="219.50" stroke="#9a9a9a" stroke-width="1.2" />
<line x1="835.13" y1="198.00" x2="835.13" y2="217.00" stroke="#9a9a9a" stroke-width="1.2" />
<line x1="829.83" y1="198.00" x2="840.43" y2="198.00" stroke="#9a9a9a" stroke-width="1.2" />
<line x1="829.83" y1="217.00" x2="840.43" y2="217.00" stroke="#9a9a9a" stroke-width="1.2" />
<polygon points="898.24,188.30 902.94,196.53 893.54,196.53" fill="#3c3c40" stroke="#111" stroke-width="2.1" stroke-linejoin="miter"/>
<polygon points="898.24,193.30 902.94,201.53 893.54,201.53" fill="#3c3c40" stroke="#111" stroke-width="2.1" stroke-linejoin="miter"/>
<polygon points="898.24,198.30 902.94,206.53 893.54,206.53" fill="#3c3c40" stroke="#111" stroke-width="2.1" stroke-linejoin="miter"/>
<polygon points="898.24,203.30 902.94,211.53 893.54,211.53" fill="#3c3c40" stroke="#111" stroke-width="2.1" stroke-linejoin="miter"/>
<line x1="898.24" y1="188.50" x2="898.24" y2="199.84" stroke="#9a9a9a" stroke-width="1.2" stroke-opacity="0.85"/>
<line x1="892.94" y1="188.50" x2="903.54" y2="188.50" stroke="#9a9a9a" stroke-width="1.2" stroke-opacity="0.85"/>
<line x1="892.94" y1="199.84" x2="903.54" y2="199.84" stroke="#9a9a9a" stroke-width="1.2" stroke-opacity="0.85"/>
<line x1="898.24" y1="192.00" x2="898.24" y2="204.97" stroke="#9a9a9a" stroke-width="1.2" stroke-opacity="0.85"/>
<line x1="892.94" y1="192.00" x2="903.54" y2="192.00" stroke="#9a9a9a" stroke-width="1.2" stroke-opacity="0.85"/>
<line x1="892.94" y1="204.97" x2="903.54" y2="204.97" stroke="#9a9a9a" stroke-width="1.2" stroke-opacity="0.85"/>
<line x1="898.24" y1="197.26" x2="898.24" y2="207.67" stroke="#9a9a9a" stroke-width="1.2" stroke-opacity="0.85"/>
<line x1="892.94" y1="197.26" x2="903.54" y2="197.26" stroke="#9a9a9a" stroke-width="1.2" stroke-opacity="0.85"/>
<line x1="892.94" y1="207.67" x2="903.54" y2="207.67" stroke="#9a9a9a" stroke-width="1.2" stroke-opacity="0.85"/>
<line x1="898.24" y1="199.01" x2="898.24" y2="212.50" stroke="#9a9a9a" stroke-width="1.2" stroke-opacity="0.85"/>
<line x1="892.94" y1="199.01" x2="903.54" y2="199.01" stroke="#9a9a9a" stroke-width="1.2" stroke-opacity="0.85"/>
<line x1="892.94" y1="212.50" x2="903.54" y2="212.50" stroke="#9a9a9a" stroke-width="1.2" stroke-opacity="0.85"/>
<line x1="898.24" y1="188.50" x2="898.24" y2="212.50" stroke="#9a9a9a" stroke-width="1.2" />
<line x1="892.94" y1="188.50" x2="903.54" y2="188.50" stroke="#9a9a9a" stroke-width="1.2" />
<line x1="892.94" y1="212.50" x2="903.54" y2="212.50" stroke="#9a9a9a" stroke-width="1.2" />
<line x1="898.24" y1="191.00" x2="898.24" y2="210.00" stroke="#9a9a9a" stroke-width="1.2" />
<line x1="892.94" y1="191.00" x2="903.54" y2="191.00" stroke="#9a9a9a" stroke-width="1.2" />
<line x1="892.94" y1="210.00" x2="903.54" y2="210.00" stroke="#9a9a9a" stroke-width="1.2" />
<polygon points="946.91,171.30 951.61,179.53 942.21,179.53" fill="#3c3c40" stroke="#111" stroke-width="2.1" stroke-linejoin="miter"/>
<polygon points="946.91,177.30 951.61,185.53 942.21,185.53" fill="#3c3c40" stroke="#111" stroke-width="2.1" stroke-linejoin="miter"/>
<polygon points="946.91,183.30 951.61,191.53 942.21,191.53" fill="#3c3c40" stroke="#111" stroke-width="2.1" stroke-linejoin="miter"/>
<polygon points="946.91,189.30 951.61,197.53 942.21,197.53" fill="#3c3c40" stroke="#111" stroke-width="2.1" stroke-linejoin="miter"/>
<polygon points="946.91,195.30 951.61,203.53 942.21,203.53" fill="#3c3c40" stroke="#111" stroke-width="2.1" stroke-linejoin="miter"/>
<polygon points="946.91,201.30 951.61,209.53 942.21,209.53" fill="#3c3c40" stroke="#111" stroke-width="2.1" stroke-linejoin="miter"/>
<line x1="946.91" y1="171.50" x2="946.91" y2="183.25" stroke="#9a9a9a" stroke-width="1.2" stroke-opacity="0.85"/>
<line x1="941.61" y1="171.50" x2="952.21" y2="171.50" stroke="#9a9a9a" stroke-width="1.2" stroke-opacity="0.85"/>
<line x1="941.61" y1="183.25" x2="952.21" y2="183.25" stroke="#9a9a9a" stroke-width="1.2" stroke-opacity="0.85"/>
<line x1="946.91" y1="177.11" x2="946.91" y2="186.38" stroke="#9a9a9a" stroke-width="1.2" stroke-opacity="0.85"/>
<line x1="941.61" y1="177.11" x2="952.21" y2="177.11" stroke="#9a9a9a" stroke-width="1.2" stroke-opacity="0.85"/>
<line x1="941.61" y1="186.38" x2="952.21" y2="186.38" stroke="#9a9a9a" stroke-width="1.2" stroke-opacity="0.85"/>
<line x1="946.91" y1="183.27" x2="946.91" y2="191.42" stroke="#9a9a9a" stroke-width="1.2" stroke-opacity="0.85"/>
<line x1="941.61" y1="183.27" x2="952.21" y2="183.27" stroke="#9a9a9a" stroke-width="1.2" stroke-opacity="0.85"/>
<line x1="941.61" y1="191.42" x2="952.21" y2="191.42" stroke="#9a9a9a" stroke-width="1.2" stroke-opacity="0.85"/>
<line x1="946.91" y1="186.40" x2="946.91" y2="199.40" stroke="#9a9a9a" stroke-width="1.2" stroke-opacity="0.85"/>
<line x1="941.61" y1="186.40" x2="952.21" y2="186.40" stroke="#9a9a9a" stroke-width="1.2" stroke-opacity="0.85"/>
<line x1="941.61" y1="199.40" x2="952.21" y2="199.40" stroke="#9a9a9a" stroke-width="1.2" stroke-opacity="0.85"/>
<line x1="946.91" y1="191.92" x2="946.91" y2="205.32" stroke="#9a9a9a" stroke-width="1.2" stroke-opacity="0.85"/>
<line x1="941.61" y1="191.92" x2="952.21" y2="191.92" stroke="#9a9a9a" stroke-width="1.2" stroke-opacity="0.85"/>
<line x1="941.61" y1="205.32" x2="952.21" y2="205.32" stroke="#9a9a9a" stroke-width="1.2" stroke-opacity="0.85"/>
<line x1="946.91" y1="197.25" x2="946.91" y2="210.50" stroke="#9a9a9a" stroke-width="1.2" stroke-opacity="0.85"/>
<line x1="941.61" y1="197.25" x2="952.21" y2="197.25" stroke="#9a9a9a" stroke-width="1.2" stroke-opacity="0.85"/>
<line x1="941.61" y1="210.50" x2="952.21" y2="210.50" stroke="#9a9a9a" stroke-width="1.2" stroke-opacity="0.85"/>
<line x1="946.91" y1="171.50" x2="946.91" y2="210.50" stroke="#9a9a9a" stroke-width="1.2" />
<line x1="941.61" y1="171.50" x2="952.21" y2="171.50" stroke="#9a9a9a" stroke-width="1.2" />
<line x1="941.61" y1="210.50" x2="952.21" y2="210.50" stroke="#9a9a9a" stroke-width="1.2" />
<line x1="946.91" y1="174.00" x2="946.91" y2="208.00" stroke="#9a9a9a" stroke-width="1.2" />
<line x1="941.61" y1="174.00" x2="952.21" y2="174.00" stroke="#9a9a9a" stroke-width="1.2" />
<line x1="941.61" y1="208.00" x2="952.21" y2="208.00" stroke="#9a9a9a" stroke-width="1.2" />
<polygon points="628.10,222.40 944.80,170.20 952.00,204.40 633.20,255.60" fill="rgb(170,178,222)" stroke="none" stroke-width="1" fill-opacity="0.47"/>
<text x="591.18" y="61.00" font-size="24.6" fill="#000" >Pyroxene, RH=80%</text>
<text x="712.36" y="160.90" font-size="24.7" fill="#000" >reference scattering</text>
<line x1="927.00" y1="176.00" x2="927.00" y2="204.00" stroke="#222" stroke-width="1.6" />
<polygon points="922.20,177.50 927.00,171.30 931.80,177.50" fill="#222" stroke="none" stroke-width="1" />
<polygon points="922.20,202.00 927.00,208.00 931.80,202.00" fill="#222" stroke="none" stroke-width="1" />
<polygon points="627.00,446.00 941.70,349.80 951.60,381.80 765.50,439.20 628.20,477.50" fill="#d7ddf0" stroke="none" stroke-width="1" />
<polygon points="633.71,463.30 638.41,471.52 629.01,471.52" fill="none" stroke="#111" stroke-width="2.1" stroke-linejoin="miter"/>
<polygon points="633.71,467.30 638.41,475.52 629.01,475.52" fill="none" stroke="#111" stroke-width="2.1" stroke-linejoin="miter"/>
<polygon points="633.71,471.30 638.41,479.52 629.01,479.52" fill="none" stroke="#111" stroke-width="2.1" stroke-linejoin="miter"/>
<line x1="633.71" y1="465.00" x2="633.71" y2="472.26" stroke="#9a9a9a" stroke-width="1.2" stroke-opacity="0.85"/>
<line x1="628.41" y1="465.00" x2="639.01" y2="465.00" stroke="#9a9a9a" stroke-width="1.2" stroke-opacity="0.85"/>
<line x1="628.41" y1="472.26" x2="639.01" y2="472.26" stroke="#9a9a9a" stroke-width="1.2" stroke-opacity="0.85"/>
<line x1="633.71" y1="463.54" x2="633.71" y2="477.82" stroke="#9a9a9a" stroke-width="1.2" stroke-opacity="0.85"/>
<line x1="628.41" y1="463.54" x2="639.01" y2="463.54" stroke="#9a9a9a" stroke-width="1.2" stroke-opacity="0.85"/>
<line x1="628.41" y1="477.82" x2="639.01" y2="477.82" stroke="#9a9a9a" stroke-width="1.2" stroke-opacity="0.85"/>
<line x1="633.71" y1="467.12" x2="633.71" y2="479.00" stroke="#9a9a9a" stroke-width="1.2" stroke-opacity="0.85"/>
<line x1="628.41" y1="467.12" x2="639.01" y2="467.12" stroke="#9a9a9a" stroke-width="1.2" stroke-opacity="0.85"/>
<line x1="628.41" y1="479.00" x2="639.01" y2="479.00" stroke="#9a9a9a" stroke-width="1.2" stroke-opacity="0.85"/>
<line x1="633.71" y1="448.50" x2="633.71" y2="479.00" stroke="#9a9a9a" stroke-width="1.2" />
<line x1="628.41" y1="448.50" x2="639.01" y2="448.50" stroke="#9a9a9a" stroke-width="1.2" />
<line x1="628.41" y1="479.00" x2="639.01" y2="479.00" stroke="#9a9a9a" stroke-width="1.2" />
<line x1="633.71" y1="452.00" x2="633.71" y2="476.00" stroke="#9a9a9a" stroke-width="1.2" />
<line x1="628.41" y1="452.00" x2="639.01" y2="452.00" stroke="#9a9a9a" stroke-width="1.2" />
<line x1="628.41" y1="476.00" x2="639.01" y2="476.00" stroke="#9a9a9a" stroke-width="1.2" />
<polygon points="702.87,423.30 707.57,431.52 698.17,431.52" fill="none" stroke="#111" stroke-width="2.1" stroke-linejoin="miter"/>
<polygon points="702.87,431.30 707.57,439.52 698.17,439.52" fill="none" stroke="#111" stroke-width="2.1" stroke-linejoin="miter"/>
<polygon points="702.87,439.30 707.57,447.52 698.17,447.52" fill="none" stroke="#111" stroke-width="2.1" stroke-linejoin="miter"/>
<polygon points="702.87,447.30 707.57,455.52 698.17,455.52" fill="none" stroke="#111" stroke-width="2.1" stroke-linejoin="miter"/>
<polygon points="702.87,455.30 707.57,463.52 698.17,463.52" fill="none" stroke="#111" stroke-width="2.1" stroke-linejoin="miter"/>
<polygon points="702.87,463.30 707.57,471.52 698.17,471.52" fill="none" stroke="#111" stroke-width="2.1" stroke-linejoin="miter"/>
<line x1="702.87" y1="424.56" x2="702.87" y2="434.78" stroke="#9a9a9a" stroke-width="1.2" stroke-opacity="0.85"/>
<line x1="697.57" y1="424.56" x2="708.17" y2="424.56" stroke="#9a9a9a" stroke-width="1.2" stroke-opacity="0.85"/>
<line x1="697.57" y1="434.78" x2="708.17" y2="434.78" stroke="#9a9a9a" stroke-width="1.2" stroke-opacity="0.85"/>
<line x1="702.87" y1="428.33" x2="702.87" y2="440.62" stroke="#9a9a9a" stroke-width="1.2" stroke-opacity="0.85"/>
<line x1="697.57" y1="428.33" x2="708.17" y2="428.33" stroke="#9a9a9a" stroke-width="1.2" stroke-opacity="0.85"/>
<line x1="697.57" y1="440.62" x2="708.17" y2="440.62" stroke="#9a9a9a" stroke-width="1.2" stroke-opacity="0.85"/>
<line x1="702.87" y1="440.48" x2="702.87" y2="449.00" stroke="#9a9a9a" stroke-width="1.2" stroke-opacity="0.85"/>
<line x1="697.57" y1="440.48" x2="708.17" y2="440.48" stroke="#9a9a9a" stroke-width="1.2" stroke-opacity="0.85"/>
<line x1="697.57" y1="449.00" x2="708.17" y2="449.00" stroke="#9a9a9a" stroke-width="1.2" stroke-opacity="0.85"/>
<line x1="702.87" y1="443.22" x2="702.87" y2="459.55" stroke="#9a9a9a" stroke-width="1.2" stroke-opacity="0.85"/>
<line x1="697.57" y1="443.22" x2="708.17" y2="443.22" stroke="#9a9a9a" stroke-width="1.2" stroke-opacity="0.85"/>
<line x1="697.57" y1="459.55" x2="708.17" y2="459.55" stroke="#9a9a9a" stroke-width="1.2" stroke-opacity="0.85"/>
<line x1="702.87" y1="456.29" x2="702.87" y2="464.48" stroke="#9a9a9a" stroke-width="1.2" stroke-opacity="0.85"/>
<line x1="697.57" y1="456.29" x2="708.17" y2="456.29" stroke="#9a9a9a" stroke-width="1.2" stroke-opacity="0.85"/>
<line x1="697.57" y1="464.48" x2="708.17" y2="464.48" stroke="#9a9a9a" stroke-width="1.2" stroke-opacity="0.85"/>
<line x1="702.87" y1="464.39" x2="702.87" y2="471.36" stroke="#9a9a9a" stroke-width="1.2" stroke-opacity="0.85"/>
<line x1="697.57" y1="464.39" x2="708.17" y2="464.39" stroke="#9a9a9a" stroke-width="1.2" stroke-opacity="0.85"/>
<line x1="697.57" y1="471.36" x2="708.17" y2="471.36" stroke="#9a9a9a" stroke-width="1.2" stroke-opacity="0.85"/>
<line x1="702.87" y1="417.00" x2="702.87" y2="480.00" stroke="#9a9a9a" stroke-width="1.2" />
<line x1="697.57" y1="417.00" x2="708.17" y2="417.00" stroke="#9a9a9a" stroke-width="1.2" />
<line x1="697.57" y1="480.00" x2="708.17" y2="480.00" stroke="#9a9a9a" stroke-width="1.2" />
<line x1="702.87" y1="420.00" x2="702.87" y2="477.00" stroke="#9a9a9a" stroke-width="1.2" />
<line x1="697.57" y1="420.00" x2="708.17" y2="420.00" stroke="#9a9a9a" stroke-width="1.2" />
<line x1="697.57" y1="477.00" x2="708.17" y2="477.00" stroke="#9a9a9a" stroke-width="1.2" />
<polygon points="765.97,397.30 770.67,405.52 761.27,405.52" fill="none" stroke="#111" stroke-width="2.1" stroke-linejoin="miter"/>
<polygon points="765.97,406.70 770.67,414.92 761.27,414.92" fill="none" stroke="#111" stroke-width="2.1" stroke-linejoin="miter"/>
<polygon points="765.97,416.10 770.67,424.32 761.27,424.32" fill="none" stroke="#111" stroke-width="2.1" stroke-linejoin="miter"/>
<polygon points="765.97,425.50 770.67,433.72 761.27,433.72" fill="none" stroke="#111" stroke-width="2.1" stroke-linejoin="miter"/>
<polygon points="765.97,434.90 770.67,443.12 761.27,443.12" fill="none" stroke="#111" stroke-width="2.1" stroke-linejoin="miter"/>
<polygon points="765.97,444.30 770.67,452.52 761.27,452.52" fill="none" stroke="#111" stroke-width="2.1" stroke-linejoin="miter"/>
<line x1="765.97" y1="394.22" x2="765.97" y2="406.07" stroke="#9a9a9a" stroke-width="1.2" stroke-opacity="0.85"/>
<line x1="760.67" y1="394.22" x2="771.27" y2="394.22" stroke="#9a9a9a" stroke-width="1.2" stroke-opacity="0.85"/>
<line x1="760.67" y1="406.07" x2="771.27" y2="406.07" stroke="#9a9a9a" stroke-width="1.2" stroke-opacity="0.85"/>
<line x1="765.97" y1="405.04" x2="765.97" y2="417.08" stroke="#9a9a9a" stroke-width="1.2" stroke-opacity="0.85"/>
<line x1="760.67" y1="405.04" x2="771.27" y2="405.04" stroke="#9a9a9a" stroke-width="1.2" stroke-opacity="0.85"/>
<line x1="760.67" y1="417.08" x2="771.27" y2="417.08" stroke="#9a9a9a" stroke-width="1.2" stroke-opacity="0.85"/>
<line x1="765.97" y1="416.66" x2="765.97" y2="428.19" stroke="#9a9a9a" stroke-width="1.2" stroke-opacity="0.85"/>
<line x1="760.67" y1="416.66" x2="771.27" y2="416.66" stroke="#9a9a9a" stroke-width="1.2" stroke-opacity="0.85"/>
<line x1="760.67" y1="428.19" x2="771.27" y2="428.19" stroke="#9a9a9a" stroke-width="1.2" stroke-opacity="0.85"/>
<line x1="765.97" y1="426.41" x2="765.97" y2="437.06" stroke="#9a9a9a" stroke-width="1.2" stroke-opacity="0.85"/>
<line x1="760.67" y1="426.41" x2="771.27" y2="426.41" stroke="#9a9a9a" stroke-width="1.2" stroke-opacity="0.85"/>
<line x1="760.67" y1="437.06" x2="771.27" y2="437.06" stroke="#9a9a9a" stroke-width="1.2" stroke-opacity="0.85"/>
<line x1="765.97" y1="435.90" x2="765.97" y2="445.12" stroke="#9a9a9a" stroke-width="1.2" stroke-opacity="0.85"/>
<line x1="760.67" y1="435.90" x2="771.27" y2="435.90" stroke="#9a9a9a" stroke-width="1.2" stroke-opacity="0.85"/>
<line x1="760.67" y1="445.12" x2="771.27" y2="445.12" stroke="#9a9a9a" stroke-width="1.2" stroke-opacity="0.85"/>
<line x1="765.97" y1="444.72" x2="765.97" y2="453.62" stroke="#9a9a9a" stroke-width="1.2" stroke-opacity="0.85"/>
<line x1="760.67" y1="444.72" x2="771.27" y2="444.72" stroke="#9a9a9a" stroke-width="1.2" stroke-opacity="0.85"/>
<line x1="760.67" y1="453.62" x2="771.27" y2="453.62" stroke="#9a9a9a" stroke-width="1.2" stroke-opacity="0.85"/>
<line x1="765.97" y1="387.00" x2="765.97" y2="460.50" stroke="#9a9a9a" stroke-width="1.2" />
<line x1="760.67" y1="387.00" x2="771.27" y2="387.00" stroke="#9a9a9a" stroke-width="1.2" />
<line x1="760.67" y1="460.50" x2="771.27" y2="460.50" stroke="#9a9a9a" stroke-width="1.2" />
<line x1="765.97" y1="390.00" x2="765.97" y2="458.00" stroke="#9a9a9a" stroke-width="1.2" />
<line x1="760.67" y1="390.00" x2="771.27" y2="390.00" stroke="#9a9a9a" stroke-width="1.2" />
<line x1="760.67" y1="458.00" x2="771.27" y2="458.00" stroke="#9a9a9a" stroke-width="1.2" />
<polygon points="835.13,411.80 839.83,420.02 830.43,420.02" fill="none" stroke="#111" stroke-width="2.1" stroke-linejoin="miter"/>
<line x1="835.13" y1="408.00" x2="835.13" y2="424.32" stroke="#9a9a9a" stroke-width="1.2" stroke-opacity="0.85"/>
<line x1="829.83" y1="408.00" x2="840.43" y2="408.00" stroke="#9a9a9a" stroke-width="1.2" stroke-opacity="0.85"/>
<line x1="829.83" y1="424.32" x2="840.43" y2="424.32" stroke="#9a9a9a" stroke-width="1.2" stroke-opacity="0.85"/>
<line x1="835.13" y1="408.00" x2="835.13" y2="430.00" stroke="#9a9a9a" stroke-width="1.2" />
<line x1="829.83" y1="408.00" x2="840.43" y2="408.00" stroke="#9a9a9a" stroke-width="1.2" />
<line x1="829.83" y1="430.00" x2="840.43" y2="430.00" stroke="#9a9a9a" stroke-width="1.2" />
<polygon points="898.24,358.30 902.94,366.52 893.54,366.52" fill="none" stroke="#111" stroke-width="2.1" stroke-linejoin="miter"/>
<line x1="898.24" y1="358.18" x2="898.24" y2="371.31" stroke="#9a9a9a" stroke-width="1.2" stroke-opacity="0.85"/>
<line x1="892.94" y1="358.18" x2="903.54" y2="358.18" stroke="#9a9a9a" stroke-width="1.2" stroke-opacity="0.85"/>
<line x1="892.94" y1="371.31" x2="903.54" y2="371.31" stroke="#9a9a9a" stroke-width="1.2" stroke-opacity="0.85"/>
<line x1="898.24" y1="342.00" x2="898.24" y2="384.50" stroke="#9a9a9a" stroke-width="1.2" />
<line x1="892.94" y1="342.00" x2="903.54" y2="342.00" stroke="#9a9a9a" stroke-width="1.2" />
<line x1="892.94" y1="384.50" x2="903.54" y2="384.50" stroke="#9a9a9a" stroke-width="1.2" />
<text x="591.18" y="337.70" font-size="24.6" fill="#000" >Feldspar, RH=80%</text>
<polygon points="633.71,478.30 638.41,486.52 629.01,486.52" fill="none" stroke="#111" stroke-width="2.1" stroke-linejoin="miter"/>
<polygon points="633.71,482.80 638.41,491.02 629.01,491.02" fill="none" stroke="#111" stroke-width="2.1" stroke-linejoin="miter"/>
<polygon points="633.71,487.30 638.41,495.52 629.01,495.52" fill="none" stroke="#111" stroke-width="2.1" stroke-linejoin="miter"/>
<line x1="633.71" y1="479.00" x2="633.71" y2="488.37" stroke="#9a9a9a" stroke-width="1.2" stroke-opacity="0.85"/>
<line x1="628.41" y1="479.00" x2="639.01" y2="479.00" stroke="#9a9a9a" stroke-width="1.2" stroke-opacity="0.85"/>
<line x1="628.41" y1="488.37" x2="639.01" y2="488.37" stroke="#9a9a9a" stroke-width="1.2" stroke-opacity="0.85"/>
<line x1="633.71" y1="479.37" x2="633.71" y2="494.35" stroke="#9a9a9a" stroke-width="1.2" stroke-opacity="0.85"/>
<line x1="628.41" y1="479.37" x2="639.01" y2="479.37" stroke="#9a9a9a" stroke-width="1.2" stroke-opacity="0.85"/>
<line x1="628.41" y1="494.35" x2="639.01" y2="494.35" stroke="#9a9a9a" stroke-width="1.2" stroke-opacity="0.85"/>
<line x1="633.71" y1="488.40" x2="633.71" y2="495.50" stroke="#9a9a9a" stroke-width="1.2" stroke-opacity="0.85"/>
<line x1="628.41" y1="488.40" x2="639.01" y2="488.40" stroke="#9a9a9a" stroke-width="1.2" stroke-opacity="0.85"/>
<line x1="628.41" y1="495.50" x2="639.01" y2="495.50" stroke="#9a9a9a" stroke-width="1.2" stroke-opacity="0.85"/>
<line x1="633.71" y1="479.00" x2="633.71" y2="495.50" stroke="#9a9a9a" stroke-width="1.2" />
<line x1="628.41" y1="479.00" x2="639.01" y2="479.00" stroke="#9a9a9a" stroke-width="1.2" />
<line x1="628.41" y1="495.50" x2="639.01" y2="495.50" stroke="#9a9a9a" stroke-width="1.2" />
<polygon points="702.87,459.30 707.57,467.52 698.17,467.52" fill="none" stroke="#111" stroke-width="2.1" stroke-linejoin="miter"/>
<polygon points="702.87,465.30 707.57,473.52 698.17,473.52" fill="none" stroke="#111" stroke-width="2.1" stroke-linejoin="miter"/>
<line x1="702.87" y1="460.00" x2="702.87" y2="468.55" stroke="#9a9a9a" stroke-width="1.2" stroke-opacity="0.85"/>
<line x1="697.57" y1="460.00" x2="708.17" y2="460.00" stroke="#9a9a9a" stroke-width="1.2" stroke-opacity="0.85"/>
<line x1="697.57" y1="468.55" x2="708.17" y2="468.55" stroke="#9a9a9a" stroke-width="1.2" stroke-opacity="0.85"/>
<line x1="702.87" y1="462.36" x2="702.87" y2="474.97" stroke="#9a9a9a" stroke-width="1.2" stroke-opacity="0.85"/>
<line x1="697.57" y1="462.36" x2="708.17" y2="462.36" stroke="#9a9a9a" stroke-width="1.2" stroke-opacity="0.85"/>
<line x1="697.57" y1="474.97" x2="708.17" y2="474.97" stroke="#9a9a9a" stroke-width="1.2" stroke-opacity="0.85"/>
<line x1="702.87" y1="460.00" x2="702.87" y2="479.50" stroke="#9a9a9a" stroke-width="1.2" />
<line x1="697.57" y1="460.00" x2="708.17" y2="460.00" stroke="#9a9a9a" stroke-width="1.2" />
<line x1="697.57" y1="479.50" x2="708.17" y2="479.50" stroke="#9a9a9a" stroke-width="1.2" />
<polygon points="765.97,435.30 770.67,443.52 761.27,443.52" fill="none" stroke="#111" stroke-width="2.1" stroke-linejoin="miter"/>
<polygon points="765.97,440.30 770.67,448.52 761.27,448.52" fill="none" stroke="#111" stroke-width="2.1" stroke-linejoin="miter"/>
<polygon points="765.97,445.30 770.67,453.52 761.27,453.52" fill="none" stroke="#111" stroke-width="2.1" stroke-linejoin="miter"/>
<line x1="765.97" y1="436.00" x2="765.97" y2="443.44" stroke="#9a9a9a" stroke-width="1.2" stroke-opacity="0.85"/>
<line x1="760.67" y1="436.00" x2="771.27" y2="436.00" stroke="#9a9a9a" stroke-width="1.2" stroke-opacity="0.85"/>
<line x1="760.67" y1="443.44" x2="771.27" y2="443.44" stroke="#9a9a9a" stroke-width="1.2" stroke-opacity="0.85"/>
<line x1="765.97" y1="441.46" x2="765.97" y2="451.50" stroke="#9a9a9a" stroke-width="1.2" stroke-opacity="0.85"/>
<line x1="760.67" y1="441.46" x2="771.27" y2="441.46" stroke="#9a9a9a" stroke-width="1.2" stroke-opacity="0.85"/>
<line x1="760.67" y1="451.50" x2="771.27" y2="451.50" stroke="#9a9a9a" stroke-width="1.2" stroke-opacity="0.85"/>
<line x1="765.97" y1="445.54" x2="765.97" y2="456.61" stroke="#9a9a9a" stroke-width="1.2" stroke-opacity="0.85"/>
<line x1="760.67" y1="445.54" x2="771.27" y2="445.54" stroke="#9a9a9a" stroke-width="1.2" stroke-opacity="0.85"/>
<line x1="760.67" y1="456.61" x2="771.27" y2="456.61" stroke="#9a9a9a" stroke-width="1.2" stroke-opacity="0.85"/>
<line x1="765.97" y1="436.00" x2="765.97" y2="460.50" stroke="#9a9a9a" stroke-width="1.2" />
<line x1="760.67" y1="436.00" x2="771.27" y2="436.00" stroke="#9a9a9a" stroke-width="1.2" />
<line x1="760.67" y1="460.50" x2="771.27" y2="460.50" stroke="#9a9a9a" stroke-width="1.2" />
<polygon points="835.13,421.80 839.83,430.02 830.43,430.02" fill="none" stroke="#111" stroke-width="2.1" stroke-linejoin="miter"/>
<polygon points="835.13,426.30 839.83,434.52 830.43,434.52" fill="none" stroke="#111" stroke-width="2.1" stroke-linejoin="miter"/>
<polygon points="835.13,434.30 839.83,442.52 830.43,442.52" fill="none" stroke="#111" stroke-width="2.1" stroke-linejoin="miter"/>
<polygon points="835.13,438.30 839.83,446.52 830.43,446.52" fill="none" stroke="#111" stroke-width="2.1" stroke-linejoin="miter"/>
<polygon points="835.13,452.30 839.83,460.52 830.43,460.52" fill="none" stroke="#111" stroke-width="2.1" stroke-linejoin="miter"/>
<polygon points="835.13,469.30 839.83,477.52 830.43,477.52" fill="none" stroke="#111" stroke-width="2.1" stroke-linejoin="miter"/>
<polygon points="835.13,473.80 839.83,482.02 830.43,482.02" fill="none" stroke="#111" stroke-width="2.1" stroke-linejoin="miter"/>
<polygon points="835.13,478.30 839.83,486.52 830.43,486.52" fill="none" stroke="#111" stroke-width="2.1" stroke-linejoin="miter"/>
<line x1="835.13" y1="430.00" x2="835.13" y2="432.22" stroke="#9a9a9a" stroke-width="1.2" stroke-opacity="0.85"/>
<line x1="829.83" y1="430.00" x2="840.43" y2="430.00" stroke="#9a9a9a" stroke-width="1.2" stroke-opacity="0.85"/>
<line x1="829.83" y1="432.22" x2="840.43" y2="432.22" stroke="#9a9a9a" stroke-width="1.2" stroke-opacity="0.85"/>
<line x1="835.13" y1="430.00" x2="835.13" y2="436.90" stroke="#9a9a9a" stroke-width="1.2" stroke-opacity="0.85"/>
<line x1="829.83" y1="430.00" x2="840.43" y2="430.00" stroke="#9a9a9a" stroke-width="1.2" stroke-opacity="0.85"/>
<line x1="829.83" y1="436.90" x2="840.43" y2="436.90" stroke="#9a9a9a" stroke-width="1.2" stroke-opacity="0.85"/>
<line x1="835.13" y1="432.55" x2="835.13" y2="447.20" stroke="#9a9a9a" stroke-width="1.2" stroke-opacity="0.85"/>
<line x1="829.83" y1="432.55" x2="840.43" y2="432.55" stroke="#9a9a9a" stroke-width="1.2" stroke-opacity="0.85"/>
<line x1="829.83" y1="447.20" x2="840.43" y2="447.20" stroke="#9a9a9a" stroke-width="1.2" stroke-opacity="0.85"/>
<line x1="835.13" y1="438.90" x2="835.13" y2="446.92" stroke="#9a9a9a" stroke-width="1.2" stroke-opacity="0.85"/>
<line x1="829.83" y1="438.90" x2="840.43" y2="438.90" stroke="#9a9a9a" stroke-width="1.2" stroke-opacity="0.85"/>
<line x1="829.83" y1="446.92" x2="840.43" y2="446.92" stroke="#9a9a9a" stroke-width="1.2" stroke-opacity="0.85"/>
<line x1="835.13" y1="448.55" x2="835.13" y2="464.91" stroke="#9a9a9a" stroke-width="1.2" stroke-opacity="0.85"/>
<line x1="829.83" y1="448.55" x2="840.43" y2="448.55" stroke="#9a9a9a" stroke-width="1.2" stroke-opacity="0.85"/>
<line x1="829.83" y1="464.91" x2="840.43" y2="464.91" stroke="#9a9a9a" stroke-width="1.2" stroke-opacity="0.85"/>
<line x1="835.13" y1="469.50" x2="835.13" y2="478.14" stroke="#9a9a9a" stroke-width="1.2" stroke-opacity="0.85"/>
<line x1="829.83" y1="469.50" x2="840.43" y2="469.50" stroke="#9a9a9a" stroke-width="1.2" stroke-opacity="0.85"/>
<line x1="829.83" y1="478.14" x2="840.43" y2="478.14" stroke="#9a9a9a" stroke-width="1.2" stroke-opacity="0.85"/>
<line x1="835.13" y1="471.06" x2="835.13" y2="487.14" stroke="#9a9a9a" stroke-width="1.2" stroke-opacity="0.85"/>
<line x1="829.83" y1="471.06" x2="840.43" y2="471.06" stroke="#9a9a9a" stroke-width="1.2" stroke-opacity="0.85"/>
<line x1="829.83" y1="487.14" x2="840.43" y2="487.14" stroke="#9a9a9a" stroke-width="1.2" stroke-opacity="0.85"/>
<line x1="835.13" y1="478.82" x2="835.13" y2="491.70" stroke="#9a9a9a" stroke-width="1.2" stroke-opacity="0.85"/>
<line x1="829.83" y1="478.82" x2="840.43" y2="478.82" stroke="#9a9a9a" stroke-width="1.2" stroke-opacity="0.85"/>
<line x1="829.83" y1="491.70" x2="840.43" y2="491.70" stroke="#9a9a9a" stroke-width="1.2" stroke-opacity="0.85"/>
<line x1="835.13" y1="430.00" x2="835.13" y2="494.00" stroke="#9a9a9a" stroke-width="1.2" />
<line x1="829.83" y1="430.00" x2="840.43" y2="430.00" stroke="#9a9a9a" stroke-width="1.2" />
<line x1="829.83" y1="494.00" x2="840.43" y2="494.00" stroke="#9a9a9a" stroke-width="1.2" />
<line x1="835.13" y1="440.00" x2="835.13" y2="490.00" stroke="#9a9a9a" stroke-width="1.2" />
<line x1="829.83" y1="440.00" x2="840.43" y2="440.00" stroke="#9a9a9a" stroke-width="1.2" />
<line x1="829.83" y1="490.00" x2="840.43" y2="490.00" stroke="#9a9a9a" stroke-width="1.2" />
<polygon points="898.24,400.30 902.94,408.52 893.54,408.52" fill="none" stroke="#111" stroke-width="2.1" stroke-linejoin="miter"/>
<polygon points="898.24,404.30 902.94,412.52 893.54,412.52" fill="none" stroke="#111" stroke-width="2.1" stroke-linejoin="miter"/>
<polygon points="898.24,408.30 902.94,416.52 893.54,416.52" fill="none" stroke="#111" stroke-width="2.1" stroke-linejoin="miter"/>
<polygon points="898.24,413.30 902.94,421.52 893.54,421.52" fill="none" stroke="#111" stroke-width="2.1" stroke-linejoin="miter"/>
<polygon points="898.24,418.30 902.94,426.52 893.54,426.52" fill="none" stroke="#111" stroke-width="2.1" stroke-linejoin="miter"/>
<polygon points="898.24,438.30 902.94,446.52 893.54,446.52" fill="none" stroke="#111" stroke-width="2.1" stroke-linejoin="miter"/>
<polygon points="898.24,445.30 902.94,453.52 893.54,453.52" fill="none" stroke="#111" stroke-width="2.1" stroke-linejoin="miter"/>
<line x1="898.24" y1="396.71" x2="898.24" y2="411.62" stroke="#9a9a9a" stroke-width="1.2" stroke-opacity="0.85"/>
<line x1="892.94" y1="396.71" x2="903.54" y2="396.71" stroke="#9a9a9a" stroke-width="1.2" stroke-opacity="0.85"/>
<line x1="892.94" y1="411.62" x2="903.54" y2="411.62" stroke="#9a9a9a" stroke-width="1.2" stroke-opacity="0.85"/>
<line x1="898.24" y1="403.47" x2="898.24" y2="412.62" stroke="#9a9a9a" stroke-width="1.2" stroke-opacity="0.85"/>
<line x1="892.94" y1="403.47" x2="903.54" y2="403.47" stroke="#9a9a9a" stroke-width="1.2" stroke-opacity="0.85"/>
<line x1="892.94" y1="412.62" x2="903.54" y2="412.62" stroke="#9a9a9a" stroke-width="1.2" stroke-opacity="0.85"/>
<line x1="898.24" y1="409.77" x2="898.24" y2="421.78" stroke="#9a9a9a" stroke-width="1.2" stroke-opacity="0.85"/>
<line x1="892.94" y1="409.77" x2="903.54" y2="409.77" stroke="#9a9a9a" stroke-width="1.2" stroke-opacity="0.85"/>
<line x1="892.94" y1="421.78" x2="903.54" y2="421.78" stroke="#9a9a9a" stroke-width="1.2" stroke-opacity="0.85"/>
<line x1="898.24" y1="413.57" x2="898.24" y2="425.23" stroke="#9a9a9a" stroke-width="1.2" stroke-opacity="0.85"/>
<line x1="892.94" y1="413.57" x2="903.54" y2="413.57" stroke="#9a9a9a" stroke-width="1.2" stroke-opacity="0.85"/>
<line x1="892.94" y1="425.23" x2="903.54" y2="425.23" stroke="#9a9a9a" stroke-width="1.2" stroke-opacity="0.85"/>
<line x1="898.24" y1="418.46" x2="898.24" y2="430.94" stroke="#9a9a9a" stroke-width="1.2" stroke-opacity="0.85"/>
<line x1="892.94" y1="418.46" x2="903.54" y2="418.46" stroke="#9a9a9a" stroke-width="1.2" stroke-opacity="0.85"/>
<line x1="892.94" y1="430.94" x2="903.54" y2="430.94" stroke="#9a9a9a" stroke-width="1.2" stroke-opacity="0.85"/>
<line x1="898.24" y1="436.42" x2="898.24" y2="447.76" stroke="#9a9a9a" stroke-width="1.2" stroke-opacity="0.85"/>
<line x1="892.94" y1="436.42" x2="903.54" y2="436.42" stroke="#9a9a9a" stroke-width="1.2" stroke-opacity="0.85"/>
<line x1="892.94" y1="447.76" x2="903.54" y2="447.76" stroke="#9a9a9a" stroke-width="1.2" stroke-opacity="0.85"/>
<line x1="898.24" y1="445.95" x2="898.24" y2="457.32" stroke="#9a9a9a" stroke-width="1.2" stroke-opacity="0.85"/>
<line x1="892.94" y1="445.95" x2="903.54" y2="445.95" stroke="#9a9a9a" stroke-width="1.2" stroke-opacity="0.85"/>
<line x1="892.94" y1="457.32" x2="903.54" y2="457.32" stroke="#9a9a9a" stroke-width="1.2" stroke-opacity="0.85"/>
<line x1="898.24" y1="392.00" x2="898.24" y2="464.00" stroke="#9a9a9a" stroke-width="1.2" />
<line x1="892.94" y1="392.00" x2="903.54" y2="392.00" stroke="#9a9a9a" stroke-width="1.2" />
<line x1="892.94" y1="464.00" x2="903.54" y2="464.00" stroke="#9a9a9a" stroke-width="1.2" />
<line x1="898.24" y1="398.00" x2="898.24" y2="460.00" stroke="#9a9a9a" stroke-width="1.2" />
<line x1="892.94" y1="398.00" x2="903.54" y2="398.00" stroke="#9a9a9a" stroke-width="1.2" />
<line x1="892.94" y1="460.00" x2="903.54" y2="460.00" stroke="#9a9a9a" stroke-width="1.2" />
<polygon points="946.91,389.80 951.61,398.02 942.21,398.02" fill="none" stroke="#111" stroke-width="2.1" stroke-linejoin="miter"/>
<polygon points="946.91,429.80 951.61,438.02 942.21,438.02" fill="none" stroke="#111" stroke-width="2.1" stroke-linejoin="miter"/>
<polygon points="946.91,446.30 951.61,454.52 942.21,454.52" fill="none" stroke="#111" stroke-width="2.1" stroke-linejoin="miter"/>
<polygon points="946.91,456.30 951.61,464.52 942.21,464.52" fill="none" stroke="#111" stroke-width="2.1" stroke-linejoin="miter"/>
<polygon points="946.91,466.30 951.61,474.52 942.21,474.52" fill="none" stroke="#111" stroke-width="2.1" stroke-linejoin="miter"/>
<polygon points="946.91,470.30 951.61,478.52 942.21,478.52" fill="none" stroke="#111" stroke-width="2.1" stroke-linejoin="miter"/>
<polygon points="946.91,474.30 951.61,482.52 942.21,482.52" fill="none" stroke="#111" stroke-width="2.1" stroke-linejoin="miter"/>
<polygon points="946.91,478.30 951.61,486.52 942.21,486.52" fill="none" stroke="#111" stroke-width="2.1" stroke-linejoin="miter"/>
<polygon points="946.91,485.30 951.61,493.52 942.21,493.52" fill="none" stroke="#111" stroke-width="2.1" stroke-linejoin="miter"/>
<polygon points="946.91,495.30 951.61,503.52 942.21,503.52" fill="none" stroke="#111" stroke-width="2.1" stroke-linejoin="miter"/>
<line x1="946.91" y1="391.09" x2="946.91" y2="398.87" stroke="#9a9a9a" stroke-width="1.2" stroke-opacity="0.85"/>
<line x1="941.61" y1="391.09" x2="952.21" y2="391.09" stroke="#9a9a9a" stroke-width="1.2" stroke-opacity="0.85"/>
<line x1="941.61" y1="398.87" x2="952.21" y2="398.87" stroke="#9a9a9a" stroke-width="1.2" stroke-opacity="0.85"/>
<line x1="946.91" y1="428.14" x2="946.91" y2="442.61" stroke="#9a9a9a" stroke-width="1.2" stroke-opacity="0.85"/>
<line x1="941.61" y1="428.14" x2="952.21" y2="428.14" stroke="#9a9a9a" stroke-width="1.2" stroke-opacity="0.85"/>
<line x1="941.61" y1="442.61" x2="952.21" y2="442.61" stroke="#9a9a9a" stroke-width="1.2" stroke-opacity="0.85"/>
<line x1="946.91" y1="444.31" x2="946.91" y2="455.68" stroke="#9a9a9a" stroke-width="1.2" stroke-opacity="0.85"/>
<line x1="941.61" y1="444.31" x2="952.21" y2="444.31" stroke="#9a9a9a" stroke-width="1.2" stroke-opacity="0.85"/>
<line x1="941.61" y1="455.68" x2="952.21" y2="455.68" stroke="#9a9a9a" stroke-width="1.2" stroke-opacity="0.85"/>
<line x1="946.91" y1="452.50" x2="946.91" y2="465.22" stroke="#9a9a9a" stroke-width="1.2" stroke-opacity="0.85"/>
<line x1="941.61" y1="452.50" x2="952.21" y2="452.50" stroke="#9a9a9a" stroke-width="1.2" stroke-opacity="0.85"/>
<line x1="941.61" y1="465.22" x2="952.21" y2="465.22" stroke="#9a9a9a" stroke-width="1.2" stroke-opacity="0.85"/>
<line x1="946.91" y1="467.90" x2="946.91" y2="475.62" stroke="#9a9a9a" stroke-width="1.2" stroke-opacity="0.85"/>
<line x1="941.61" y1="467.90" x2="952.21" y2="467.90" stroke="#9a9a9a" stroke-width="1.2" stroke-opacity="0.85"/>
<line x1="941.61" y1="475.62" x2="952.21" y2="475.62" stroke="#9a9a9a" stroke-width="1.2" stroke-opacity="0.85"/>
<line x1="946.91" y1="469.33" x2="946.91" y2="478.36" stroke="#9a9a9a" stroke-width="1.2" stroke-opacity="0.85"/>
<line x1="941.61" y1="469.33" x2="952.21" y2="469.33" stroke="#9a9a9a" stroke-width="1.2" stroke-opacity="0.85"/>
<line x1="941.61" y1="478.36" x2="952.21" y2="478.36" stroke="#9a9a9a" stroke-width="1.2" stroke-opacity="0.85"/>
<line x1="946.91" y1="474.94" x2="946.91" y2="484.21" stroke="#9a9a9a" stroke-width="1.2" stroke-opacity="0.85"/>
<line x1="941.61" y1="474.94" x2="952.21" y2="474.94" stroke="#9a9a9a" stroke-width="1.2" stroke-opacity="0.85"/>
<line x1="941.61" y1="484.21" x2="952.21" y2="484.21" stroke="#9a9a9a" stroke-width="1.2" stroke-opacity="0.85"/>
<line x1="946.91" y1="476.57" x2="946.91" y2="486.79" stroke="#9a9a9a" stroke-width="1.2" stroke-opacity="0.85"/>
<line x1="941.61" y1="476.57" x2="952.21" y2="476.57" stroke="#9a9a9a" stroke-width="1.2" stroke-opacity="0.85"/>
<line x1="941.61" y1="486.79" x2="952.21" y2="486.79" stroke="#9a9a9a" stroke-width="1.2" stroke-opacity="0.85"/>
<line x1="946.91" y1="484.83" x2="946.91" y2="498.35" stroke="#9a9a9a" stroke-width="1.2" stroke-opacity="0.85"/>
<line x1="941.61" y1="484.83" x2="952.21" y2="484.83" stroke="#9a9a9a" stroke-width="1.2" stroke-opacity="0.85"/>
<line x1="941.61" y1="498.35" x2="952.21" y2="498.35" stroke="#9a9a9a" stroke-width="1.2" stroke-opacity="0.85"/>
<line x1="946.91" y1="491.12" x2="946.91" y2="506.94" stroke="#9a9a9a" stroke-width="1.2" stroke-opacity="0.85"/>
<line x1="941.61" y1="491.12" x2="952.21" y2="491.12" stroke="#9a9a9a" stroke-width="1.2" stroke-opacity="0.85"/>
<line x1="941.61" y1="506.94" x2="952.21" y2="506.94" stroke="#9a9a9a" stroke-width="1.2" stroke-opacity="0.85"/>
<line x1="946.91" y1="365.50" x2="946.91" y2="508.00" stroke="#9a9a9a" stroke-width="1.2" />
<line x1="941.61" y1="365.50" x2="952.21" y2="365.50" stroke="#9a9a9a" stroke-width="1.2" />
<line x1="941.61" y1="508.00" x2="952.21" y2="508.00" stroke="#9a9a9a" stroke-width="1.2" />
<line x1="946.91" y1="414.00" x2="946.91" y2="420.00" stroke="#9a9a9a" stroke-width="1.2" />
<line x1="941.61" y1="414.00" x2="952.21" y2="414.00" stroke="#9a9a9a" stroke-width="1.2" />
<line x1="941.61" y1="420.00" x2="952.21" y2="420.00" stroke="#9a9a9a" stroke-width="1.2" />
<polygon points="628.20,477.50 765.50,439.20 951.60,381.80 951.20,509.00 890.40,496.70 828.40,487.70 780.00,460.60 765.50,455.00 628.20,495.50" fill="rgb(245,165,110)" stroke="none" stroke-width="1" fill-opacity="0.36"/>
<polygon points="636.20,752.90 949.80,709.80 953.90,742.40 636.20,787.60" fill="#d7ddf0" stroke="none" stroke-width="1" />
<polygon points="633.71,764.30 638.41,772.52 629.01,772.52" fill="#181b22" stroke="#111" stroke-width="2.1" stroke-linejoin="miter"/>
<polygon points="633.71,767.63 638.41,775.86 629.01,775.86" fill="#181b22" stroke="#111" stroke-width="2.1" stroke-linejoin="miter"/>
<polygon points="633.71,770.97 638.41,779.19 629.01,779.19" fill="#181b22" stroke="#111" stroke-width="2.1" stroke-linejoin="miter"/>
<polygon points="633.71,774.30 638.41,782.52 629.01,782.52" fill="#181b22" stroke="#111" stroke-width="2.1" stroke-linejoin="miter"/>
<line x1="633.71" y1="761.85" x2="633.71" y2="775.51" stroke="#9a9a9a" stroke-width="1.2" stroke-opacity="0.85"/>
<line x1="628.41" y1="761.85" x2="639.01" y2="761.85" stroke="#9a9a9a" stroke-width="1.2" stroke-opacity="0.85"/>
<line x1="628.41" y1="775.51" x2="639.01" y2="775.51" stroke="#9a9a9a" stroke-width="1.2" stroke-opacity="0.85"/>
<line x1="633.71" y1="768.49" x2="633.71" y2="775.54" stroke="#9a9a9a" stroke-width="1.2" stroke-opacity="0.85"/>
<line x1="628.41" y1="768.49" x2="639.01" y2="768.49" stroke="#9a9a9a" stroke-width="1.2" stroke-opacity="0.85"/>
<line x1="628.41" y1="775.54" x2="639.01" y2="775.54" stroke="#9a9a9a" stroke-width="1.2" stroke-opacity="0.85"/>
<line x1="633.71" y1="772.56" x2="633.71" y2="784.13" stroke="#9a9a9a" stroke-width="1.2" stroke-opacity="0.85"/>
<line x1="628.41" y1="772.56" x2="639.01" y2="772.56" stroke="#9a9a9a" stroke-width="1.2" stroke-opacity="0.85"/>
<line x1="628.41" y1="784.13" x2="639.01" y2="784.13" stroke="#9a9a9a" stroke-width="1.2" stroke-opacity="0.85"/>
<line x1="633.71" y1="771.79" x2="633.71" y2="787.78" stroke="#9a9a9a" stroke-width="1.2" stroke-opacity="0.85"/>
<line x1="628.41" y1="771.79" x2="639.01" y2="771.79" stroke="#9a9a9a" stroke-width="1.2" stroke-opacity="0.85"/>
<line x1="628.41" y1="787.78" x2="639.01" y2="787.78" stroke="#9a9a9a" stroke-width="1.2" stroke-opacity="0.85"/>
<line x1="633.71" y1="749.50" x2="633.71" y2="788.50" stroke="#9a9a9a" stroke-width="1.2" />
<line x1="628.41" y1="749.50" x2="639.01" y2="749.50" stroke="#9a9a9a" stroke-width="1.2" />
<line x1="628.41" y1="788.50" x2="639.01" y2="788.50" stroke="#9a9a9a" stroke-width="1.2" />
<line x1="633.71" y1="753.00" x2="633.71" y2="786.00" stroke="#9a9a9a" stroke-width="1.2" />
<line x1="628.41" y1="753.00" x2="639.01" y2="753.00" stroke="#9a9a9a" stroke-width="1.2" />
<line x1="628.41" y1="786.00" x2="639.01" y2="786.00" stroke="#9a9a9a" stroke-width="1.2" />
<line x1="633.71" y1="757.00" x2="633.71" y2="783.00" stroke="#9a9a9a" stroke-width="1.2" />
<line x1="628.41" y1="757.00" x2="639.01" y2="757.00" stroke="#9a9a9a" stroke-width="1.2" />
<line x1="628.41" y1="783.00" x2="639.01" y2="783.00" stroke="#9a9a9a" stroke-width="1.2" />
<polygon points="702.87,750.30 707.57,758.52 698.17,758.52" fill="#181b22" stroke="#111" stroke-width="2.1" stroke-linejoin="miter"/>
<polygon points="702.87,754.80 707.57,763.02 698.17,763.02" fill="#181b22" stroke="#111" stroke-width="2.1" stroke-linejoin="miter"/>
<polygon points="702.87,759.30 707.57,767.52 698.17,767.52" fill="#181b22" stroke="#111" stroke-width="2.1" stroke-linejoin="miter"/>
<polygon points="702.87,763.80 707.57,772.02 698.17,772.02" fill="#181b22" stroke="#111" stroke-width="2.1" stroke-linejoin="miter"/>
<polygon points="702.87,768.30 707.57,776.52 698.17,776.52" fill="#181b22" stroke="#111" stroke-width="2.1" stroke-linejoin="miter"/>
<line x1="702.87" y1="751.87" x2="702.87" y2="761.82" stroke="#9a9a9a" stroke-width="1.2" stroke-opacity="0.85"/>
<line x1="697.57" y1="751.87" x2="708.17" y2="751.87" stroke="#9a9a9a" stroke-width="1.2" stroke-opacity="0.85"/>
<line x1="697.57" y1="761.82" x2="708.17" y2="761.82" stroke="#9a9a9a" stroke-width="1.2" stroke-opacity="0.85"/>
<line x1="702.87" y1="753.61" x2="702.87" y2="766.88" stroke="#9a9a9a" stroke-width="1.2" stroke-opacity="0.85"/>
<line x1="697.57" y1="753.61" x2="708.17" y2="753.61" stroke="#9a9a9a" stroke-width="1.2" stroke-opacity="0.85"/>
<line x1="697.57" y1="766.88" x2="708.17" y2="766.88" stroke="#9a9a9a" stroke-width="1.2" stroke-opacity="0.85"/>
<line x1="702.87" y1="759.09" x2="702.87" y2="773.00" stroke="#9a9a9a" stroke-width="1.2" stroke-opacity="0.85"/>
<line x1="697.57" y1="759.09" x2="708.17" y2="759.09" stroke="#9a9a9a" stroke-width="1.2" stroke-opacity="0.85"/>
<line x1="697.57" y1="773.00" x2="708.17" y2="773.00" stroke="#9a9a9a" stroke-width="1.2" stroke-opacity="0.85"/>
<line x1="702.87" y1="765.05" x2="702.87" y2="774.78" stroke="#9a9a9a" stroke-width="1.2" stroke-opacity="0.85"/>
<line x1="697.57" y1="765.05" x2="708.17" y2="765.05" stroke="#9a9a9a" stroke-width="1.2" stroke-opacity="0.85"/>
<line x1="697.57" y1="774.78" x2="708.17" y2="774.78" stroke="#9a9a9a" stroke-width="1.2" stroke-opacity="0.85"/>
<line x1="702.87" y1="765.58" x2="702.87" y2="781.40" stroke="#9a9a9a" stroke-width="1.2" stroke-opacity="0.85"/>
<line x1="697.57" y1="765.58" x2="708.17" y2="765.58" stroke="#9a9a9a" stroke-width="1.2" stroke-opacity="0.85"/>
<line x1="697.57" y1="781.40" x2="708.17" y2="781.40" stroke="#9a9a9a" stroke-width="1.2" stroke-opacity="0.85"/>
<line x1="702.87" y1="741.00" x2="702.87" y2="787.00" stroke="#9a9a9a" stroke-width="1.2" />
<line x1="697.57" y1="741.00" x2="708.17" y2="741.00" stroke="#9a9a9a" stroke-width="1.2" />
<line x1="697.57" y1="787.00" x2="708.17" y2="787.00" stroke="#9a9a9a" stroke-width="1.2" />
<line x1="702.87" y1="744.00" x2="702.87" y2="784.00" stroke="#9a9a9a" stroke-width="1.2" />
<line x1="697.57" y1="744.00" x2="708.17" y2="744.00" stroke="#9a9a9a" stroke-width="1.2" />
<line x1="697.57" y1="784.00" x2="708.17" y2="784.00" stroke="#9a9a9a" stroke-width="1.2" />
<line x1="702.87" y1="747.00" x2="702.87" y2="781.00" stroke="#9a9a9a" stroke-width="1.2" />
<line x1="697.57" y1="747.00" x2="708.17" y2="747.00" stroke="#9a9a9a" stroke-width="1.2" />
<line x1="697.57" y1="781.00" x2="708.17" y2="781.00" stroke="#9a9a9a" stroke-width="1.2" />
<polygon points="765.97,745.30 770.67,753.52 761.27,753.52" fill="#181b22" stroke="#111" stroke-width="2.1" stroke-linejoin="miter"/>
<polygon points="765.97,750.63 770.67,758.86 761.27,758.86" fill="#181b22" stroke="#111" stroke-width="2.1" stroke-linejoin="miter"/>
<polygon points="765.97,755.97 770.67,764.19 761.27,764.19" fill="#181b22" stroke="#111" stroke-width="2.1" stroke-linejoin="miter"/>
<polygon points="765.97,761.30 770.67,769.52 761.27,769.52" fill="#181b22" stroke="#111" stroke-width="2.1" stroke-linejoin="miter"/>
<line x1="765.97" y1="742.58" x2="765.97" y2="757.22" stroke="#9a9a9a" stroke-width="1.2" stroke-opacity="0.85"/>
<line x1="760.67" y1="742.58" x2="771.27" y2="742.58" stroke="#9a9a9a" stroke-width="1.2" stroke-opacity="0.85"/>
<line x1="760.67" y1="757.22" x2="771.27" y2="757.22" stroke="#9a9a9a" stroke-width="1.2" stroke-opacity="0.85"/>
<line x1="765.97" y1="747.57" x2="765.97" y2="763.82" stroke="#9a9a9a" stroke-width="1.2" stroke-opacity="0.85"/>
<line x1="760.67" y1="747.57" x2="771.27" y2="747.57" stroke="#9a9a9a" stroke-width="1.2" stroke-opacity="0.85"/>
<line x1="760.67" y1="763.82" x2="771.27" y2="763.82" stroke="#9a9a9a" stroke-width="1.2" stroke-opacity="0.85"/>
<line x1="765.97" y1="755.56" x2="765.97" y2="767.78" stroke="#9a9a9a" stroke-width="1.2" stroke-opacity="0.85"/>
<line x1="760.67" y1="755.56" x2="771.27" y2="755.56" stroke="#9a9a9a" stroke-width="1.2" stroke-opacity="0.85"/>
<line x1="760.67" y1="767.78" x2="771.27" y2="767.78" stroke="#9a9a9a" stroke-width="1.2" stroke-opacity="0.85"/>
<line x1="765.97" y1="757.59" x2="765.97" y2="774.23" stroke="#9a9a9a" stroke-width="1.2" stroke-opacity="0.85"/>
<line x1="760.67" y1="757.59" x2="771.27" y2="757.59" stroke="#9a9a9a" stroke-width="1.2" stroke-opacity="0.85"/>
<line x1="760.67" y1="774.23" x2="771.27" y2="774.23" stroke="#9a9a9a" stroke-width="1.2" stroke-opacity="0.85"/>
<line x1="765.97" y1="731.00" x2="765.97" y2="776.00" stroke="#9a9a9a" stroke-width="1.2" />
<line x1="760.67" y1="731.00" x2="771.27" y2="731.00" stroke="#9a9a9a" stroke-width="1.2" />
<line x1="760.67" y1="776.00" x2="771.27" y2="776.00" stroke="#9a9a9a" stroke-width="1.2" />
<line x1="765.97" y1="734.00" x2="765.97" y2="773.00" stroke="#9a9a9a" stroke-width="1.2" />
<line x1="760.67" y1="734.00" x2="771.27" y2="734.00" stroke="#9a9a9a" stroke-width="1.2" />
<line x1="760.67" y1="773.00" x2="771.27" y2="773.00" stroke="#9a9a9a" stroke-width="1.2" />
<line x1="765.97" y1="737.00" x2="765.97" y2="770.00" stroke="#9a9a9a" stroke-width="1.2" />
<line x1="760.67" y1="737.00" x2="771.27" y2="737.00" stroke="#9a9a9a" stroke-width="1.2" />
<line x1="760.67" y1="770.00" x2="771.27" y2="770.00" stroke="#9a9a9a" stroke-width="1.2" />
<polygon points="835.13,736.30 839.83,744.52 830.43,744.52" fill="#181b22" stroke="#111" stroke-width="2.1" stroke-linejoin="miter"/>
<polygon points="835.13,743.05 839.83,751.27 830.43,751.27" fill="#181b22" stroke="#111" stroke-width="2.1" stroke-linejoin="miter"/>
<polygon points="835.13,749.80 839.83,758.02 830.43,758.02" fill="#181b22" stroke="#111" stroke-width="2.1" stroke-linejoin="miter"/>
<polygon points="835.13,756.55 839.83,764.77 830.43,764.77" fill="#181b22" stroke="#111" stroke-width="2.1" stroke-linejoin="miter"/>
<polygon points="835.13,763.30 839.83,771.52 830.43,771.52" fill="#181b22" stroke="#111" stroke-width="2.1" stroke-linejoin="miter"/>
<line x1="835.13" y1="735.50" x2="835.13" y2="748.74" stroke="#9a9a9a" stroke-width="1.2" stroke-opacity="0.85"/>
<line x1="829.83" y1="735.50" x2="840.43" y2="735.50" stroke="#9a9a9a" stroke-width="1.2" stroke-opacity="0.85"/>
<line x1="829.83" y1="748.74" x2="840.43" y2="748.74" stroke="#9a9a9a" stroke-width="1.2" stroke-opacity="0.85"/>
<line x1="835.13" y1="739.57" x2="835.13" y2="754.19" stroke="#9a9a9a" stroke-width="1.2" stroke-opacity="0.85"/>
<line x1="829.83" y1="739.57" x2="840.43" y2="739.57" stroke="#9a9a9a" stroke-width="1.2" stroke-opacity="0.85"/>
<line x1="829.83" y1="754.19" x2="840.43" y2="754.19" stroke="#9a9a9a" stroke-width="1.2" stroke-opacity="0.85"/>
<line x1="835.13" y1="747.75" x2="835.13" y2="759.79" stroke="#9a9a9a" stroke-width="1.2" stroke-opacity="0.85"/>
<line x1="829.83" y1="747.75" x2="840.43" y2="747.75" stroke="#9a9a9a" stroke-width="1.2" stroke-opacity="0.85"/>
<line x1="829.83" y1="759.79" x2="840.43" y2="759.79" stroke="#9a9a9a" stroke-width="1.2" stroke-opacity="0.85"/>
<line x1="835.13" y1="754.75" x2="835.13" y2="767.90" stroke="#9a9a9a" stroke-width="1.2" stroke-opacity="0.85"/>
<line x1="829.83" y1="754.75" x2="840.43" y2="754.75" stroke="#9a9a9a" stroke-width="1.2" stroke-opacity="0.85"/>
<line x1="829.83" y1="767.90" x2="840.43" y2="767.90" stroke="#9a9a9a" stroke-width="1.2" stroke-opacity="0.85"/>
<line x1="835.13" y1="764.52" x2="835.13" y2="774.84" stroke="#9a9a9a" stroke-width="1.2" stroke-opacity="0.85"/>
<line x1="829.83" y1="764.52" x2="840.43" y2="764.52" stroke="#9a9a9a" stroke-width="1.2" stroke-opacity="0.85"/>
<line x1="829.83" y1="774.84" x2="840.43" y2="774.84" stroke="#9a9a9a" stroke-width="1.2" stroke-opacity="0.85"/>
<line x1="835.13" y1="725.50" x2="835.13" y2="778.50" stroke="#9a9a9a" stroke-width="1.2" />
<line x1="829.83" y1="725.50" x2="840.43" y2="725.50" stroke="#9a9a9a" stroke-width="1.2" />
<line x1="829.83" y1="778.50" x2="840.43" y2="778.50" stroke="#9a9a9a" stroke-width="1.2" />
<line x1="835.13" y1="728.00" x2="835.13" y2="776.00" stroke="#9a9a9a" stroke-width="1.2" />
<line x1="829.83" y1="728.00" x2="840.43" y2="728.00" stroke="#9a9a9a" stroke-width="1.2" />
<line x1="829.83" y1="776.00" x2="840.43" y2="776.00" stroke="#9a9a9a" stroke-width="1.2" />
<polygon points="898.24,704.30 902.94,712.52 893.54,712.52" fill="#181b22" stroke="#111" stroke-width="2.1" stroke-linejoin="miter"/>
<polygon points="898.24,709.80 902.94,718.02 893.54,718.02" fill="#181b22" stroke="#111" stroke-width="2.1" stroke-linejoin="miter"/>
<polygon points="898.24,715.30 902.94,723.52 893.54,723.52" fill="#181b22" stroke="#111" stroke-width="2.1" stroke-linejoin="miter"/>
<polygon points="898.24,720.80 902.94,729.02 893.54,729.02" fill="#181b22" stroke="#111" stroke-width="2.1" stroke-linejoin="miter"/>
<polygon points="898.24,726.30 902.94,734.52 893.54,734.52" fill="#181b22" stroke="#111" stroke-width="2.1" stroke-linejoin="miter"/>
<line x1="898.24" y1="700.04" x2="898.24" y2="717.28" stroke="#9a9a9a" stroke-width="1.2" stroke-opacity="0.85"/>
<line x1="892.94" y1="700.04" x2="903.54" y2="700.04" stroke="#9a9a9a" stroke-width="1.2" stroke-opacity="0.85"/>
<line x1="892.94" y1="717.28" x2="903.54" y2="717.28" stroke="#9a9a9a" stroke-width="1.2" stroke-opacity="0.85"/>
<line x1="898.24" y1="707.13" x2="898.24" y2="719.83" stroke="#9a9a9a" stroke-width="1.2" stroke-opacity="0.85"/>
<line x1="892.94" y1="707.13" x2="903.54" y2="707.13" stroke="#9a9a9a" stroke-width="1.2" stroke-opacity="0.85"/>
<line x1="892.94" y1="719.83" x2="903.54" y2="719.83" stroke="#9a9a9a" stroke-width="1.2" stroke-opacity="0.85"/>
<line x1="898.24" y1="712.59" x2="898.24" y2="726.49" stroke="#9a9a9a" stroke-width="1.2" stroke-opacity="0.85"/>
<line x1="892.94" y1="712.59" x2="903.54" y2="712.59" stroke="#9a9a9a" stroke-width="1.2" stroke-opacity="0.85"/>
<line x1="892.94" y1="726.49" x2="903.54" y2="726.49" stroke="#9a9a9a" stroke-width="1.2" stroke-opacity="0.85"/>
<line x1="898.24" y1="719.86" x2="898.24" y2="733.53" stroke="#9a9a9a" stroke-width="1.2" stroke-opacity="0.85"/>
<line x1="892.94" y1="719.86" x2="903.54" y2="719.86" stroke="#9a9a9a" stroke-width="1.2" stroke-opacity="0.85"/>
<line x1="892.94" y1="733.53" x2="903.54" y2="733.53" stroke="#9a9a9a" stroke-width="1.2" stroke-opacity="0.85"/>
<line x1="898.24" y1="727.50" x2="898.24" y2="738.50" stroke="#9a9a9a" stroke-width="1.2" stroke-opacity="0.85"/>
<line x1="892.94" y1="727.50" x2="903.54" y2="727.50" stroke="#9a9a9a" stroke-width="1.2" stroke-opacity="0.85"/>
<line x1="892.94" y1="738.50" x2="903.54" y2="738.50" stroke="#9a9a9a" stroke-width="1.2" stroke-opacity="0.85"/>
<line x1="898.24" y1="694.60" x2="898.24" y2="753.50" stroke="#9a9a9a" stroke-width="1.2" />
<line x1="892.94" y1="694.60" x2="903.54" y2="694.60" stroke="#9a9a9a" stroke-width="1.2" />
<line x1="892.94" y1="753.50" x2="903.54" y2="753.50" stroke="#9a9a9a" stroke-width="1.2" />
<line x1="898.24" y1="697.00" x2="898.24" y2="751.00" stroke="#9a9a9a" stroke-width="1.2" />
<line x1="892.94" y1="697.00" x2="903.54" y2="697.00" stroke="#9a9a9a" stroke-width="1.2" />
<line x1="892.94" y1="751.00" x2="903.54" y2="751.00" stroke="#9a9a9a" stroke-width="1.2" />
<line x1="898.24" y1="700.00" x2="898.24" y2="748.00" stroke="#9a9a9a" stroke-width="1.2" />
<line x1="892.94" y1="700.00" x2="903.54" y2="700.00" stroke="#9a9a9a" stroke-width="1.2" />
<line x1="892.94" y1="748.00" x2="903.54" y2="748.00" stroke="#9a9a9a" stroke-width="1.2" />
<polygon points="946.91,711.30 951.61,719.52 942.21,719.52" fill="#181b22" stroke="#111" stroke-width="2.1" stroke-linejoin="miter"/>
<polygon points="946.91,718.10 951.61,726.32 942.21,726.32" fill="#181b22" stroke="#111" stroke-width="2.1" stroke-linejoin="miter"/>
<polygon points="946.91,724.90 951.61,733.12 942.21,733.12" fill="#181b22" stroke="#111" stroke-width="2.1" stroke-linejoin="miter"/>
<polygon points="946.91,731.70 951.61,739.92 942.21,739.92" fill="#181b22" stroke="#111" stroke-width="2.1" stroke-linejoin="miter"/>
<polygon points="946.91,738.50 951.61,746.73 942.21,746.73" fill="#181b22" stroke="#111" stroke-width="2.1" stroke-linejoin="miter"/>
<polygon points="946.91,745.30 951.61,753.52 942.21,753.52" fill="#181b22" stroke="#111" stroke-width="2.1" stroke-linejoin="miter"/>
<line x1="946.91" y1="712.82" x2="946.91" y2="722.61" stroke="#9a9a9a" stroke-width="1.2" stroke-opacity="0.85"/>
<line x1="941.61" y1="712.82" x2="952.21" y2="712.82" stroke="#9a9a9a" stroke-width="1.2" stroke-opacity="0.85"/>
<line x1="941.61" y1="722.61" x2="952.21" y2="722.61" stroke="#9a9a9a" stroke-width="1.2" stroke-opacity="0.85"/>
<line x1="946.91" y1="716.91" x2="946.91" y2="727.18" stroke="#9a9a9a" stroke-width="1.2" stroke-opacity="0.85"/>
<line x1="941.61" y1="716.91" x2="952.21" y2="716.91" stroke="#9a9a9a" stroke-width="1.2" stroke-opacity="0.85"/>
<line x1="941.61" y1="727.18" x2="952.21" y2="727.18" stroke="#9a9a9a" stroke-width="1.2" stroke-opacity="0.85"/>
<line x1="946.91" y1="722.41" x2="946.91" y2="735.58" stroke="#9a9a9a" stroke-width="1.2" stroke-opacity="0.85"/>
<line x1="941.61" y1="722.41" x2="952.21" y2="722.41" stroke="#9a9a9a" stroke-width="1.2" stroke-opacity="0.85"/>
<line x1="941.61" y1="735.58" x2="952.21" y2="735.58" stroke="#9a9a9a" stroke-width="1.2" stroke-opacity="0.85"/>
<line x1="946.91" y1="729.71" x2="946.91" y2="744.92" stroke="#9a9a9a" stroke-width="1.2" stroke-opacity="0.85"/>
<line x1="941.61" y1="729.71" x2="952.21" y2="729.71" stroke="#9a9a9a" stroke-width="1.2" stroke-opacity="0.85"/>
<line x1="941.61" y1="744.92" x2="952.21" y2="744.92" stroke="#9a9a9a" stroke-width="1.2" stroke-opacity="0.85"/>
<line x1="946.91" y1="738.67" x2="946.91" y2="746.27" stroke="#9a9a9a" stroke-width="1.2" stroke-opacity="0.85"/>
<line x1="941.61" y1="738.67" x2="952.21" y2="738.67" stroke="#9a9a9a" stroke-width="1.2" stroke-opacity="0.85"/>
<line x1="941.61" y1="746.27" x2="952.21" y2="746.27" stroke="#9a9a9a" stroke-width="1.2" stroke-opacity="0.85"/>
<line x1="946.91" y1="745.19" x2="946.91" y2="757.07" stroke="#9a9a9a" stroke-width="1.2" stroke-opacity="0.85"/>
<line x1="941.61" y1="745.19" x2="952.21" y2="745.19" stroke="#9a9a9a" stroke-width="1.2" stroke-opacity="0.85"/>
<line x1="941.61" y1="757.07" x2="952.21" y2="757.07" stroke="#9a9a9a" stroke-width="1.2" stroke-opacity="0.85"/>
<line x1="946.91" y1="690.60" x2="946.91" y2="762.90" stroke="#9a9a9a" stroke-width="1.2" />
<line x1="941.61" y1="690.60" x2="952.21" y2="690.60" stroke="#9a9a9a" stroke-width="1.2" />
<line x1="941.61" y1="762.90" x2="952.21" y2="762.90" stroke="#9a9a9a" stroke-width="1.2" />
<line x1="946.91" y1="712.00" x2="946.91" y2="758.00" stroke="#9a9a9a" stroke-width="1.2" />
<line x1="941.61" y1="712.00" x2="952.21" y2="712.00" stroke="#9a9a9a" stroke-width="1.2" />
<line x1="941.61" y1="758.00" x2="952.21" y2="758.00" stroke="#9a9a9a" stroke-width="1.2" />
<text x="591.18" y="612.70" font-size="24.6" fill="#000" >Feldspar, RH=5%</text>
<text x="-0.32" y="489.00" font-size="28.8" fill="#000" >c</text>
<polygon points="116.3,740.5 116.5,737.7 116.7,741.9 117.0,739.0 117.2,741.9 117.4,740.0 117.6,740.5 117.9,741.1 118.1,740.8 118.3,737.4 118.5,741.3 118.7,738.7 119.0,740.8 119.2,739.1 119.4,741.7 119.6,738.3 119.9,741.0 120.1,736.3 120.3,739.3 120.5,738.1 120.7,738.5 121.0,739.6 121.2,742.1 121.4,739.6 121.6,738.9 121.9,741.0 122.1,742.0 122.3,740.7 122.5,741.5 122.7,741.5 123.0,740.6 123.2,741.9 123.4,738.9 123.6,740.8 123.9,740.1 124.1,742.3 124.3,742.8 124.5,736.8 124.7,739.0 125.0,742.1 125.2,743.1 125.4,741.3 125.6,743.3 125.9,742.3 126.1,741.5 126.3,742.7 126.5,740.1 126.7,739.8 127.0,736.5 127.2,737.2 127.4,739.5 127.6,733.5 127.9,738.3 128.1,736.8 128.3,739.0 128.5,737.7 128.7,738.0 129.0,737.5 129.2,737.8 129.4,737.9 129.6,739.0 129.9,741.9 130.1,743.6 130.3,743.4 130.5,741.1 130.8,739.0 131.0,741.6 131.2,739.0 131.4,740.2 131.6,740.8 131.9,735.9 132.1,739.1 132.3,739.6 132.5,739.9 132.8,739.5 133.0,741.5 133.2,739.9 133.4,739.3 133.6,736.5 133.9,736.2 134.1,737.5 134.3,736.2 134.5,735.2 134.8,734.4 135.0,734.9 135.2,737.1 135.4,736.7 135.6,736.5 135.9,733.9 136.1,738.1 136.3,737.6 136.5,734.5 136.8,733.4 137.0,731.8 137.2,731.9 137.4,731.0 137.6,731.1 137.9,731.9 138.1,731.0 138.3,728.7 138.5,728.5 138.8,728.9 139.0,729.3 139.2,722.9 139.4,728.8 139.6,732.1 139.9,733.4 140.1,733.0 140.3,734.3 140.5,731.7 140.8,733.8 141.0,731.2 141.2,729.0 141.4,730.4 141.6,731.9 141.9,729.4 142.1,731.6 142.3,732.8 142.5,731.7 142.8,729.4 143.0,729.3 143.2,726.7 143.4,731.3 143.6,729.8 143.9,731.2 144.1,732.1 144.3,731.7 144.5,731.8 144.8,735.7 145.0,733.3 145.2,736.1 145.4,734.8 145.6,734.4 145.9,733.0 146.1,729.8 146.3,734.0 146.5,733.0 146.8,733.1 147.0,733.1 147.2,728.6 147.4,731.1 147.6,733.2 147.9,732.1 148.1,731.2 148.3,724.7 148.5,732.2 148.8,732.5 149.0,732.7 149.2,732.1 149.4,733.5 149.6,733.9 149.9,730.6 150.1,731.2 150.3,732.6 150.5,732.6 150.8,727.5 151.0,729.3 151.2,729.1 151.4,731.3 151.6,732.1 151.9,730.9 152.1,733.3 152.3,731.7 152.5,724.2 152.8,731.7 153.0,730.8 153.2,731.1 153.4,732.4 153.6,730.4 153.9,732.1 154.1,732.9 154.3,727.7 154.5,731.4 154.8,732.6 155.0,728.4 155.2,731.4 155.4,732.0 155.6,731.2 155.9,730.1 156.1,730.4 156.3,729.0 156.5,731.2 156.8,733.5 157.0,730.2 157.2,724.6 157.4,729.5 157.7,730.2 157.9,727.2 158.1,731.4 158.3,730.6 158.5,729.2 158.8,731.1 159.0,732.6 159.2,731.6 159.4,730.9 159.7,728.9 159.9,728.7 160.1,729.8 160.3,732.2 160.5,732.4 160.8,733.0 161.0,731.5 161.2,733.0 161.4,733.1 161.7,732.4 161.9,729.6 162.1,730.8 162.3,731.9 162.5,732.5 162.8,732.3 163.0,734.2 163.2,732.9 163.4,727.6 163.7,729.8 163.9,728.4 164.1,727.5 164.3,729.3 164.5,727.0 164.8,732.3 165.0,730.1 165.2,730.3 165.4,729.1 165.7,730.3 165.9,731.1 166.1,731.0 166.3,731.0 166.5,730.2 166.8,732.1 167.0,728.5 167.2,731.5 167.4,732.7 167.7,732.5 167.9,730.7 168.1,729.7 168.3,728.2 168.5,728.8 168.8,729.7 169.0,729.5 169.2,723.8 169.4,725.8 169.7,726.4 169.9,729.3 170.1,727.8 170.3,729.0 170.5,727.4 170.8,728.5 171.0,728.3 171.2,727.5 171.4,728.4 171.7,721.5 171.9,721.2 172.1,725.2 172.3,726.5 172.5,724.9 172.8,725.7 173.0,722.5 173.2,725.5 173.4,723.4 173.7,724.0 173.9,723.0 174.1,717.6 174.3,723.9 174.5,725.1 174.8,722.6 175.0,720.4 175.2,723.5 175.4,721.4 175.7,722.0 175.9,722.1 176.1,720.0 176.3,716.2 176.5,721.0 176.8,719.8 177.0,720.4 177.2,720.7 177.4,717.7 177.7,718.1 177.9,717.8 178.1,717.7 178.3,719.8 178.5,718.9 178.8,718.8 179.0,719.1 179.2,720.1 179.4,719.2 179.7,722.6 179.9,722.0 180.1,722.9 180.3,721.2 180.5,721.4 180.8,723.0 181.0,723.7 181.2,722.6 181.4,725.3 181.7,722.7 181.9,722.6 182.1,723.7 182.3,724.9 182.5,722.3 182.8,722.2 183.0,724.6 183.2,723.5 183.4,724.3 183.7,723.6 183.9,723.3 184.1,724.8 184.3,725.2 184.5,724.1 184.8,720.3 185.0,721.1 185.2,725.1 185.4,723.2 185.7,724.5 185.9,726.4 186.1,724.9 186.3,724.7 186.6,717.6 186.8,723.8 187.0,725.7 187.2,724.2 187.4,724.6 187.7,718.5 187.9,723.6 188.1,724.3 188.3,722.2 188.6,723.7 188.8,723.4 189.0,722.9 189.2,720.1 189.4,720.5 189.7,722.5 189.9,722.7 190.1,724.7 190.3,723.7 190.6,722.2 190.8,722.2 191.0,722.2 191.2,724.8 191.4,721.4 191.7,719.1 191.9,718.1 192.1,720.6 192.3,720.2 192.6,719.7 192.8,717.1 193.0,718.6 193.2,718.6 193.4,718.1 193.7,717.7 193.9,717.6 194.1,717.8 194.3,717.0 194.6,713.0 194.8,717.9 195.0,718.9 195.2,718.1 195.4,718.2 195.7,720.0 195.9,715.0 196.1,716.7 196.3,718.4 196.6,717.9 196.8,715.9 197.0,716.6 197.2,716.0 197.4,713.3 197.7,717.1 197.9,715.1 198.1,718.7 198.3,720.2 198.6,721.4 198.8,722.2 199.0,718.3 199.2,719.8 199.4,718.3 199.7,716.5 199.9,715.7 200.1,714.9 200.3,714.6 200.6,716.4 200.8,714.9 201.0,712.5 201.2,713.3 201.4,712.1 201.7,714.2 201.9,715.2 202.1,714.2 202.3,714.8 202.6,713.8 202.8,715.2 203.0,715.1 203.2,715.6 203.4,714.3 203.7,715.2 203.9,716.4 204.1,714.5 204.3,716.9 204.6,718.6 204.8,719.0 205.0,715.2 205.2,715.0 205.4,716.3 205.7,717.3 205.9,712.9 206.1,716.1 206.3,716.4 206.6,715.8 206.8,715.0 207.0,714.1 207.2,715.1 207.4,714.1 207.7,715.5 207.9,716.2 208.1,710.6 208.3,713.8 208.6,714.4 208.8,712.9 209.0,716.8 209.2,715.4 209.4,713.9 209.7,713.9 209.9,713.2 210.1,716.5 210.3,717.6 210.6,713.8 210.8,715.6 211.0,717.0 211.2,715.8 211.4,718.2 211.7,717.0 211.9,719.8 212.1,716.4 212.3,719.1 212.6,719.8 212.8,719.8 213.0,719.9 213.2,714.6 213.5,721.3 213.7,719.3 213.9,720.9 214.1,721.5 214.3,720.7 214.6,717.6 214.8,720.4 215.0,722.5 215.2,723.2 215.5,719.3 215.7,714.7 215.9,722.4 216.1,722.7 216.3,723.5 216.6,723.4 216.8,721.8 217.0,723.0 217.2,724.5 217.5,725.5 217.7,717.5 217.9,723.1 218.1,723.9 218.3,725.8 218.6,722.9 218.8,722.9 219.0,718.3 219.2,722.4 219.5,719.3 219.7,718.7 219.9,724.4 220.1,724.3 220.3,721.7 220.6,720.9 220.8,717.8 221.0,720.9 221.2,719.1 221.5,719.7 221.7,719.3 221.9,719.0 222.1,711.8 222.3,717.3 222.6,715.4 222.8,716.3 223.0,710.0 223.2,712.8 223.5,714.4 223.7,716.0 223.9,715.2 224.1,714.3 224.3,714.0 224.6,714.9 224.8,715.0 225.0,713.7 225.2,714.5 225.5,709.5 225.7,713.3 225.9,711.4 226.1,712.2 226.3,711.7 226.6,711.3 226.8,712.5 227.0,707.2 227.2,712.1 227.5,712.3 227.7,713.7 227.9,714.2 228.1,714.2 228.3,713.1 228.6,714.2 228.8,713.7 229.0,715.0 229.2,714.0 229.5,713.5 229.7,716.1 229.9,716.1 230.1,716.7 230.3,713.5 230.6,714.5 230.8,715.4 231.0,711.8 231.2,715.7 231.5,713.9 231.7,714.3 231.9,717.1 232.1,718.1 232.3,716.7 232.6,717.0 232.8,716.3 233.0,715.8 233.2,716.4 233.5,714.8 233.7,716.3 233.9,712.6 234.1,715.0 234.3,717.9 234.6,717.8 234.8,716.3 235.0,717.1 235.2,715.8 235.5,718.1 235.7,717.2 235.9,719.8 236.1,719.0 236.3,718.6 236.6,717.8 236.8,718.4 237.0,720.2 237.2,720.8 237.5,722.7 237.7,723.0 237.9,721.5 238.1,723.0 238.3,724.8 238.6,724.3 238.8,726.2 239.0,728.1 239.2,728.8 239.5,728.3 239.7,727.6 239.9,726.0 240.1,728.1 240.4,726.9 240.6,726.8 240.8,728.5 241.0,729.7 241.2,728.9 241.5,731.3 241.7,730.1 241.9,730.2 242.1,729.8 242.4,723.1 242.6,730.8 242.8,734.1 243.0,734.3 243.2,736.0 243.5,735.7 243.7,737.0 243.9,729.0 244.1,729.1 244.4,731.0 244.6,732.1 244.8,727.2 245.0,730.7 245.2,725.6 245.5,732.0 245.7,727.8 245.9,730.3 246.1,730.3 246.4,727.7 246.6,730.5 246.8,729.5 247.0,730.2 247.2,726.8 247.5,729.4 247.7,730.7 247.9,729.9 248.1,727.4 248.4,730.1 248.6,731.0 248.8,729.3 249.0,728.5 249.2,727.9 249.5,725.0 249.7,728.7 249.9,731.1 250.1,728.7 250.4,728.8 250.6,727.6 250.8,728.3 251.0,725.9 251.2,726.0 251.5,727.6 251.7,727.1 251.9,726.2 252.1,723.5 252.4,724.1 252.6,727.1 252.8,725.6 253.0,725.0 253.2,724.2 253.5,724.6 253.7,724.2 253.9,725.6 254.1,725.5 254.4,724.9 254.6,724.2 254.8,726.2 255.0,725.9 255.2,725.1 255.5,726.0 255.7,723.5 255.9,725.8 256.1,723.5 256.4,725.4 256.6,724.6 256.8,723.5 257.0,720.8 257.2,722.2 257.5,721.8 257.7,724.5 257.9,725.5 258.1,725.1 258.4,726.4 258.6,725.2 258.8,724.8 259.0,721.1 259.2,724.1 259.5,724.6 259.7,725.2 259.9,724.7 260.1,722.0 260.4,724.1 260.6,725.3 260.8,724.6 261.0,725.1 261.2,721.6 261.5,724.7 261.7,724.4 261.9,724.6 262.1,725.0 262.4,722.5 262.6,723.8 262.8,722.9 263.0,721.2 263.2,724.0 263.5,722.1 263.7,719.2 263.9,722.2 264.1,722.9 264.4,724.4 264.6,722.8 264.8,724.9 265.0,725.4 265.2,727.5 265.5,725.6 265.7,727.0 265.9,727.9 266.1,727.1 266.4,724.8 266.6,725.3 266.8,725.8 267.0,726.0 267.3,725.2 267.5,726.0 267.7,724.9 267.9,725.8 268.1,729.2 268.4,728.6 268.6,727.2 268.8,728.9 269.0,730.6 269.3,729.3 269.5,726.5 269.7,729.2 269.9,729.6 270.1,731.4 270.4,730.8 270.6,728.2 270.8,730.4 271.0,728.0 271.3,727.7 271.5,727.4 271.7,728.8 271.9,730.1 272.1,730.0 272.4,729.6 272.6,728.4 272.8,728.1 273.0,729.6 273.3,731.9 273.5,730.6 273.7,731.7 273.9,731.9 274.1,731.1 274.4,731.1 274.6,728.9 274.8,728.7 275.0,731.0 275.3,733.5 275.5,734.2 275.7,736.0 275.9,735.2 276.1,733.5 276.4,734.9 276.6,735.6 276.8,734.4 277.0,735.2 277.3,733.0 277.5,729.4 277.7,730.3 277.9,730.0 278.1,730.0 278.4,729.0 278.6,733.5 278.8,729.4 279.0,727.3 279.3,730.4 279.5,726.4 279.7,731.7 279.9,730.0 280.1,733.5 280.4,732.1 280.6,733.1 280.8,735.0 281.0,735.6 281.3,735.1 281.5,735.9 281.7,734.7 281.9,736.8 282.1,737.5 282.4,735.6 282.6,736.4 282.8,733.6 283.0,736.3 283.3,731.4 283.5,734.6 283.7,734.2 283.9,735.3 284.1,734.9 284.4,734.7 284.6,729.8 284.8,733.6 285.0,734.5 285.3,733.7 285.5,734.4 285.7,733.2 285.9,734.7 286.1,734.0 286.4,732.6 286.6,734.4 286.8,733.9 287.0,728.3 287.3,730.3 287.5,722.3 287.7,730.3 287.9,734.9 288.1,735.3 288.4,734.7 288.6,730.1 288.8,732.3 289.0,730.6 289.3,732.5 289.5,731.1 289.7,732.3 289.9,731.3 290.1,733.1 290.4,733.8 290.6,733.3 290.8,733.1 291.0,732.6 291.3,731.8 291.5,731.9 291.7,730.1 291.9,730.7 292.1,730.3 292.4,729.9 292.6,733.6 292.8,731.3 293.0,730.2 293.3,730.4 293.5,729.4 293.7,723.2 293.9,731.8 294.1,731.9 294.4,731.9 294.6,731.1 294.8,729.4 295.0,731.7 295.3,726.8 295.5,731.9 295.7,733.2 295.9,732.9 296.2,733.4 296.4,734.3 296.6,733.4 296.8,729.2 297.0,730.4 297.3,729.4 297.5,735.0 297.7,732.3 297.9,734.5 298.2,728.5 298.4,729.1 298.6,733.8 298.8,733.3 299.0,734.6 299.3,733.9 299.5,733.6 299.7,733.6 299.9,733.5 300.2,729.8 300.4,730.1 300.6,734.3 300.8,733.5 301.0,732.2 301.3,734.0 301.5,734.5 301.7,731.4 301.9,731.0 302.2,734.1 302.4,738.1 302.6,733.1 302.8,733.0 303.0,734.4 303.3,736.8 303.5,736.8 303.7,736.0 303.9,739.0 304.2,738.8 304.4,740.1 304.6,737.3 304.8,736.9 305.0,734.0 305.3,734.2 305.5,735.3 305.7,731.0 305.9,736.5 306.2,735.5 306.4,737.1 306.6,731.6 306.8,736.7 307.0,737.5 307.3,736.8 307.5,736.4 307.7,735.3 307.9,734.6 308.2,736.8 308.4,739.2 308.6,736.5 308.8,735.9 309.0,737.1 309.3,735.7 309.5,736.9 309.7,734.1 309.9,733.3 310.2,735.5 310.4,734.2 310.6,732.2 310.8,737.8 311.0,735.5 311.3,731.8 311.5,734.4 311.7,734.3 311.9,733.0 312.2,733.0 312.4,735.3 312.6,734.8 312.8,735.7 313.0,734.0 313.3,734.1 313.5,734.1 313.7,734.6 313.9,726.7 314.2,732.3 314.4,730.1 314.6,734.1 314.8,734.2 315.0,733.8 315.3,734.8 315.5,736.0 315.7,735.1 315.9,729.5 316.2,737.2 316.4,735.1 316.6,734.2 316.8,738.2 317.0,733.0 317.3,735.4 317.5,735.2 317.7,733.7 317.9,736.9 318.2,737.0 318.4,737.5 318.6,739.4 318.8,738.1 319.0,732.6 319.3,740.0 319.5,739.9 319.7,739.6 319.9,740.2 320.2,739.4 320.4,738.6 320.6,737.0 320.8,733.9 321.0,738.5 321.3,736.1 321.5,734.2 321.7,729.6 321.9,738.3 322.2,737.6 322.4,738.4 322.6,732.6 322.8,736.3 323.1,739.0 323.3,738.8 323.5,738.7 323.7,740.6 323.9,734.6 324.2,737.8 324.4,739.8 324.6,739.0 324.8,734.7 325.1,738.1 325.3,737.9 325.5,740.6 325.7,739.2 325.9,741.1 326.2,740.3 326.4,740.9 326.6,741.7 326.8,741.2 327.1,733.7 327.3,742.3 327.5,742.5 327.7,743.8 327.9,741.4 328.2,742.5 328.4,743.2 328.6,744.1 328.8,741.5 329.1,745.0 329.3,743.9 329.5,743.1 329.7,743.2 329.9,739.3 330.2,747.5 330.4,746.5 330.6,742.6 330.8,741.7 331.1,746.6 331.3,747.2 331.5,746.0 331.7,743.8 331.9,746.3 332.2,745.8 332.4,744.3 332.6,741.1 332.8,743.3 333.1,740.4 333.3,738.0 333.5,741.9 333.7,741.5 333.9,742.4 334.2,742.2 334.4,742.8 334.6,742.1 334.8,738.6 335.1,741.5 335.3,742.0 335.5,741.9 335.7,739.3 335.9,741.6 336.2,738.7 336.4,732.0 336.6,739.7 336.8,740.4 337.1,740.9 337.3,739.8 337.5,740.1 337.7,738.2 337.9,735.0 338.2,736.6 338.4,737.6 338.6,738.1 338.8,735.9 339.1,738.2 339.3,735.4 339.5,736.8 339.7,737.4 339.9,736.5 340.2,736.5 340.4,737.3 340.6,738.1 340.8,732.6 341.1,729.8 341.3,735.4 341.5,731.2 341.7,734.9 341.9,731.4 342.2,731.6 342.4,732.9 342.6,732.6 342.8,733.3 343.1,732.7 343.3,733.2 343.5,730.7 343.7,732.8 343.9,733.3 344.2,735.3 344.4,734.8 344.6,732.7 344.8,735.6 345.1,735.5 345.3,734.9 345.5,734.7 345.7,733.0 345.9,732.7 346.2,735.7 346.4,734.5 346.6,735.0 346.8,735.2 347.1,735.9 347.3,733.9 347.5,730.0 347.7,731.4 347.9,731.4 348.2,733.6 348.4,734.2 348.6,729.5 348.8,730.2 349.1,730.5 349.3,731.5 349.5,732.2 349.7,728.7 350.0,732.0 350.2,731.1 350.4,733.1 350.6,730.3 350.8,731.2 351.1,726.8 351.3,730.8 351.5,729.7 351.7,729.0 352.0,729.1 352.2,728.4 352.4,727.3 352.6,728.2 352.8,730.6 353.1,728.6 353.3,728.1 353.5,727.1 353.7,727.0 354.0,729.0 354.2,725.0 354.4,731.4 354.6,728.9 354.8,731.5 355.1,730.6 355.3,721.0 355.5,731.7 355.7,731.2 356.0,733.0 356.2,732.3 356.4,729.0 356.6,731.7 356.8,729.9 357.1,733.1 357.3,731.7 357.5,727.9 357.7,733.1 358.0,732.7 358.2,732.8 358.4,733.7 358.6,734.0 358.8,733.5 359.1,732.0 359.3,733.7 359.5,734.7 359.7,735.7 360.0,734.6 360.2,732.5 360.4,735.2 360.6,735.1 360.8,736.5 361.1,738.1 361.3,736.0 361.5,736.7 361.7,734.3 362.0,737.8 362.2,736.1 362.4,734.1 362.6,733.0 362.8,729.9 363.1,729.8 363.3,733.1 363.5,737.9 363.7,736.0 364.0,735.3 364.2,734.0 364.4,735.6 364.6,733.1 364.8,733.9 365.1,734.4 365.3,734.0 365.5,733.9 365.7,736.3 366.0,735.5 366.2,736.1 366.4,737.4 366.6,735.7 366.8,736.4 367.1,738.0 367.3,734.4 367.5,735.1 367.7,735.1 368.0,734.1 368.2,732.6 368.4,732.4 368.6,732.9 368.8,729.2 369.1,733.7 369.3,733.1 369.5,726.1 369.7,732.8 370.0,732.3 370.2,732.5 370.4,729.4 370.6,734.5 370.8,735.3 371.1,733.7 371.3,732.1 371.5,734.2 371.7,731.1 372.0,734.4 372.2,733.3 372.4,732.4 372.6,732.0 372.8,732.9 373.1,731.0 373.3,729.4 373.5,728.1 373.7,729.4 374.0,727.5 374.2,727.9 374.4,732.2 374.6,732.6 374.8,729.7 375.1,728.3 375.3,733.2 375.5,732.1 375.7,730.2 376.0,732.0 376.2,729.6 376.4,729.0 376.6,728.7 376.9,727.9 377.1,727.6 377.3,729.3 377.5,729.9 377.7,729.4 378.0,729.2 378.2,731.0 378.4,730.4 378.6,728.5 378.9,730.6 379.1,733.5 379.3,735.7 379.5,734.0 379.7,734.9 380.0,734.6 380.2,734.4 380.4,733.9 380.6,734.2 380.9,734.1 381.1,735.6 381.3,734.5 381.5,734.8 381.7,733.5 382.0,735.8 382.2,736.7 382.4,737.0 382.6,739.5 382.9,737.6 383.1,736.1 383.3,743.0 383.5,743.9 383.7,742.0 384.0,742.1 384.2,742.0 384.4,743.4 384.6,743.1 384.9,741.4 385.1,740.0 385.3,741.1 385.5,734.7 385.7,741.7 386.0,742.9 386.2,743.5 386.4,746.1 386.6,748.6 386.9,747.0 387.1,746.4 387.3,745.0 387.5,746.3 387.7,747.7 388.0,749.0 388.2,748.4 388.4,747.7 388.6,747.8 388.9,749.2 389.1,742.4 389.3,746.3 389.5,746.7 389.7,748.0 390.0,748.4 390.2,747.3 390.4,745.6 390.6,744.3 390.9,747.0 391.1,748.4 391.3,749.1 391.5,748.1 391.7,745.5 392.0,748.0 392.2,746.1 392.4,747.0 392.6,746.2 392.9,745.3 393.1,747.2 393.3,746.1 393.5,746.8 393.7,745.3 394.0,744.3 394.2,747.0 394.4,745.3 394.6,746.0 394.9,748.0 395.1,746.1 395.3,744.3 395.5,742.0 395.7,748.5 396.0,745.7 396.2,745.0 396.4,746.4 396.6,746.9 396.9,747.0 397.1,747.8 397.3,745.3 397.5,747.1 397.7,746.9 398.0,742.6 398.2,742.5 398.4,745.3 398.6,744.7 398.9,740.9 399.1,747.3 399.3,746.6 399.5,745.8 399.7,744.2 400.0,744.9 400.2,737.8 400.4,743.0 400.6,745.2 400.9,741.2 401.1,745.9 401.3,740.3 401.5,745.6 401.7,741.9 402.0,744.3 402.2,745.6 402.4,745.9 402.6,747.7 402.9,745.7 403.1,746.9 403.3,748.3 403.5,748.0 403.8,748.0 404.0,747.8 404.2,745.1 404.4,740.2 404.6,741.9 404.9,745.8 405.1,745.9 405.3,744.6 405.5,742.7 405.8,745.3 406.0,744.3 406.2,742.7 406.4,739.3 406.6,742.6 406.9,745.0 407.1,743.8 407.3,740.2 407.5,741.5 407.8,740.8 408.0,743.6 408.2,744.1 408.4,742.0 408.6,744.3 408.9,742.5 409.1,739.8 409.3,740.7 409.5,740.3 409.8,740.7 410.0,741.5 410.2,740.5 410.4,738.8 410.6,740.1 410.9,739.0 411.1,737.6 411.3,738.9 411.5,735.3 411.8,738.4 412.0,738.3 412.2,738.4 412.4,736.2 412.6,733.6 412.9,735.6 413.1,735.5 413.3,736.6 413.5,737.9 413.8,737.0 414.0,738.2 414.2,740.2 414.4,740.4 414.6,738.9 414.9,738.4 415.1,737.8 415.3,733.9 415.5,738.3 415.8,740.5 416.0,738.1 416.2,735.4 416.4,736.5 416.6,735.8 416.9,733.7 417.1,735.6 417.3,736.4 417.5,735.9 417.8,734.7 418.0,735.6 418.2,734.0 418.4,736.2 418.6,736.2 418.9,737.1 419.1,737.2 419.3,738.8 419.5,739.8 419.8,735.6 420.0,739.5 420.2,737.6 420.4,738.2 420.6,736.7 420.9,734.8 421.1,735.6 421.3,737.0 421.5,734.7 421.8,738.3 422.0,732.6 422.2,738.8 422.4,738.6 422.6,739.0 422.9,740.3 423.1,740.7 423.3,740.0 423.5,739.7 423.8,739.8 424.0,739.3 424.2,738.8 424.4,740.7 424.6,737.3 424.9,739.1 425.1,739.4 425.3,742.1 425.5,738.9 425.8,742.9 426.0,741.4 426.2,737.8 426.4,742.5 426.6,744.8 426.9,745.6 427.1,743.6 427.3,739.6 427.5,743.6 427.8,742.7 428.0,743.9 428.2,745.8 428.4,743.1 428.6,745.3 428.9,744.0 429.1,743.7 429.3,744.8 429.5,744.3 429.8,744.1 430.0,743.0 430.2,742.5 430.4,742.1 430.6,743.8 430.9,744.7 431.1,744.4 431.3,743.3 431.5,741.1 431.8,739.1 432.0,741.3 432.2,739.6 432.4,743.1 432.7,741.2 432.9,740.1 433.1,738.6 433.3,741.1 433.5,739.5 433.8,736.5 434.0,735.2 434.2,736.9 434.4,737.8 434.7,738.8 434.9,738.8 435.1,735.6 435.3,739.0 435.5,738.4 435.8,738.3 436.0,734.4 436.2,732.7 436.4,735.3 436.7,735.4 436.9,735.0 437.1,732.4 437.3,738.3 437.5,736.5 437.8,738.9 438.0,738.0 438.2,739.4 438.4,740.2 438.7,737.6 438.9,738.1 439.1,737.5 439.3,740.5 439.5,739.4 439.8,736.3 440.0,739.3 440.2,735.0 440.4,740.6 440.7,742.2 440.9,741.2 441.1,743.3 441.3,741.2 441.5,745.3 441.8,744.2 442.0,744.9 442.2,743.8 442.4,743.1 442.7,744.6 442.9,744.1 443.1,749.0 443.3,748.7 443.5,748.3 443.8,748.4 444.0,747.3 444.2,747.6 444.4,745.9 444.7,745.6 444.9,743.0 445.1,740.5 445.3,745.3 445.5,745.2 445.8,744.3 446.0,745.4 446.2,746.3 446.4,745.2 446.7,748.0 446.9,746.1 447.1,743.5 447.3,742.4 447.5,745.3 447.8,746.7 448.0,744.2 448.2,742.9 448.4,746.3 448.7,745.2 448.9,746.0 449.1,747.4 449.3,746.2 449.5,746.7 449.8,746.6 450.0,744.1 450.2,747.4 450.4,745.4 450.7,748.7 450.9,744.0 451.1,749.2 451.3,747.5 451.5,746.6 451.8,747.1 452.0,746.3 452.2,745.0 452.4,743.2 452.7,741.2 452.9,744.5 453.1,746.8 453.3,745.1 453.5,746.1 453.8,749.6 454.0,749.4 454.2,748.2 454.4,745.5 454.7,746.4 454.9,744.1 455.1,746.1 455.3,745.1 455.5,746.4 455.8,742.6 456.0,746.4 456.2,745.8 456.4,746.2 456.7,745.1 456.9,744.5 457.1,740.4 457.3,742.4 457.5,742.4 457.8,741.8 458.0,743.6 458.2,742.9 458.4,743.8 458.7,743.6 458.9,742.4 459.1,740.0 459.3,739.5 459.6,744.8 459.8,744.6 460.0,743.7 460.2,744.3 460.4,743.5 460.7,742.9 460.9,743.1 461.1,744.6 461.3,744.7 461.6,743.1 461.8,744.0 462.0,742.1 462.2,743.3 462.4,739.4 462.7,743.0 462.9,742.1 463.1,740.3 463.3,739.6 463.6,739.7 463.8,742.4 464.0,743.1 464.2,734.8 464.4,742.8 464.7,735.0 464.9,743.0 465.1,743.9 465.3,735.9 465.6,745.7 465.8,745.8 466.0,746.4 466.2,745.3 466.4,743.5 466.7,743.7 466.9,744.5 467.1,744.4 467.3,744.7 467.6,745.5 467.8,742.9 468.0,744.0 468.2,745.4 468.4,745.7 468.7,745.1 468.9,743.1 469.1,746.2 469.3,747.3 469.6,745.7 469.8,748.7 470.0,747.6 470.2,749.2 470.4,747.7 470.7,745.8 470.9,748.9 471.1,747.4 471.3,747.1 471.6,746.3 471.8,749.3 472.0,747.9 472.0,758.3 471.8,760.9 471.6,758.4 471.3,758.0 471.1,759.6 470.9,757.8 470.7,762.5 470.4,760.6 470.2,760.2 470.0,757.7 469.8,757.6 469.6,758.7 469.3,757.3 469.1,757.0 468.9,755.7 468.7,756.3 468.4,758.8 468.2,754.1 468.0,756.9 467.8,753.9 467.6,755.0 467.3,754.8 467.1,756.5 466.9,758.4 466.7,753.2 466.4,754.5 466.2,756.1 466.0,758.5 465.8,756.2 465.6,754.2 465.3,754.2 465.1,754.1 464.9,752.6 464.7,752.3 464.4,754.0 464.2,752.8 464.0,754.6 463.8,753.9 463.6,753.5 463.3,753.1 463.1,754.9 462.9,753.9 462.7,753.1 462.4,752.0 462.2,754.7 462.0,752.8 461.8,753.5 461.6,756.1 461.3,755.8 461.1,754.4 460.9,754.3 460.7,754.3 460.4,760.5 460.2,756.1 460.0,755.5 459.8,756.0 459.6,754.6 459.3,752.4 459.1,753.4 458.9,751.7 458.7,753.4 458.4,752.6 458.2,753.3 458.0,753.3 457.8,753.1 457.5,752.6 457.3,756.5 457.1,755.2 456.9,755.5 456.7,754.8 456.4,758.4 456.2,756.4 456.0,756.1 455.8,755.5 455.5,755.6 455.3,755.8 455.1,754.3 454.9,755.5 454.7,758.9 454.4,758.4 454.2,757.1 454.0,759.5 453.8,759.0 453.5,757.1 453.3,755.1 453.1,759.3 452.9,759.6 452.7,755.3 452.4,754.3 452.2,757.1 452.0,761.0 451.8,757.2 451.5,757.8 451.3,760.0 451.1,758.2 450.9,762.3 450.7,757.0 450.4,757.4 450.2,759.9 450.0,759.8 449.8,756.6 449.5,756.8 449.3,756.6 449.1,759.3 448.9,760.2 448.7,755.7 448.4,758.0 448.2,755.1 448.0,764.4 447.8,755.7 447.5,757.7 447.3,755.7 447.1,757.3 446.9,758.5 446.7,757.5 446.4,759.1 446.2,756.9 446.0,755.6 445.8,755.0 445.5,756.2 445.3,755.2 445.1,753.3 444.9,755.4 444.7,755.8 444.4,754.9 444.2,757.4 444.0,758.0 443.8,758.7 443.5,760.0 443.3,759.8 443.1,757.6 442.9,753.9 442.7,754.4 442.4,757.7 442.2,758.3 442.0,755.0 441.8,757.0 441.5,754.1 441.3,753.1 441.1,752.3 440.9,750.8 440.7,752.1 440.4,754.9 440.2,751.9 440.0,752.2 439.8,752.1 439.5,749.3 439.3,750.5 439.1,749.7 438.9,747.3 438.7,749.5 438.4,749.4 438.2,749.2 438.0,752.3 437.8,747.5 437.5,747.6 437.3,748.1 437.1,752.5 436.9,745.2 436.7,746.6 436.4,745.6 436.2,747.3 436.0,747.1 435.8,747.9 435.5,749.3 435.3,750.7 435.1,752.6 434.9,750.1 434.7,752.0 434.4,753.2 434.2,747.9 434.0,747.0 433.8,750.7 433.5,756.2 433.3,750.5 433.1,751.5 432.9,751.2 432.7,754.7 432.4,754.4 432.2,752.4 432.0,753.6 431.8,751.3 431.5,751.5 431.3,752.0 431.1,753.8 430.9,755.2 430.6,752.3 430.4,752.5 430.2,753.2 430.0,754.0 429.8,754.1 429.5,755.8 429.3,753.9 429.1,753.0 428.9,755.0 428.6,758.3 428.4,755.7 428.2,754.5 428.0,755.6 427.8,753.3 427.5,753.6 427.3,752.6 427.1,756.4 426.9,754.5 426.6,755.6 426.4,755.3 426.2,760.3 426.0,754.4 425.8,751.4 425.5,755.1 425.3,759.5 425.1,753.0 424.9,750.3 424.6,746.9 424.4,749.7 424.2,751.4 424.0,752.9 423.8,750.5 423.5,752.5 423.3,748.9 423.1,754.6 422.9,749.5 422.6,753.0 422.4,750.9 422.2,748.0 422.0,746.1 421.8,747.7 421.5,746.2 421.3,747.3 421.1,746.7 420.9,747.4 420.6,748.4 420.4,747.2 420.2,747.2 420.0,749.9 419.8,748.7 419.5,749.9 419.3,750.8 419.1,748.1 418.9,747.2 418.6,745.7 418.4,747.6 418.2,746.8 418.0,744.5 417.8,745.6 417.5,746.1 417.3,748.0 417.1,746.5 416.9,746.3 416.6,750.9 416.4,749.7 416.2,746.8 416.0,747.4 415.8,750.2 415.5,751.2 415.3,753.0 415.1,753.9 414.9,754.3 414.6,749.8 414.4,749.5 414.2,758.5 414.0,751.5 413.8,747.1 413.5,749.3 413.3,745.9 413.1,746.6 412.9,748.2 412.6,747.1 412.4,747.4 412.2,750.8 412.0,748.0 411.8,748.6 411.5,747.0 411.3,754.2 411.1,748.9 410.9,748.2 410.6,750.2 410.4,752.1 410.2,749.5 410.0,750.6 409.8,750.2 409.5,750.8 409.3,749.3 409.1,750.9 408.9,752.2 408.6,753.6 408.4,754.9 408.2,752.4 408.0,753.9 407.8,751.7 407.5,751.6 407.3,751.1 407.1,753.4 406.9,756.0 406.6,755.1 406.4,754.1 406.2,753.6 406.0,754.8 405.8,756.2 405.5,753.0 405.3,755.1 405.1,754.9 404.9,755.3 404.6,755.5 404.4,753.3 404.2,758.2 404.0,756.2 403.8,757.0 403.5,758.2 403.3,757.1 403.1,760.3 402.9,757.0 402.6,757.3 402.4,757.1 402.2,756.3 402.0,756.6 401.7,754.0 401.5,755.5 401.3,753.9 401.1,755.2 400.9,754.8 400.6,756.1 400.4,754.1 400.2,754.2 400.0,757.2 399.7,757.2 399.5,757.3 399.3,757.2 399.1,755.9 398.9,757.4 398.6,757.2 398.4,759.0 398.2,761.4 398.0,759.2 397.7,756.6 397.5,756.3 397.3,754.7 397.1,758.3 396.9,755.9 396.6,758.3 396.4,756.8 396.2,754.9 396.0,756.3 395.7,758.5 395.5,760.1 395.3,757.9 395.1,757.0 394.9,757.8 394.6,756.2 394.4,757.1 394.2,755.9 394.0,757.4 393.7,756.5 393.5,756.4 393.3,755.9 393.1,757.6 392.9,760.3 392.6,756.0 392.4,758.4 392.2,758.7 392.0,756.9 391.7,757.5 391.5,759.1 391.3,761.0 391.1,759.6 390.9,757.3 390.6,757.5 390.4,757.4 390.2,758.2 390.0,757.2 389.7,764.5 389.5,757.9 389.3,756.3 389.1,756.4 388.9,758.5 388.6,760.2 388.4,759.2 388.2,759.7 388.0,764.3 387.7,759.6 387.5,756.8 387.3,756.2 387.1,758.5 386.9,759.3 386.6,758.8 386.4,763.4 386.2,755.3 386.0,752.9 385.7,754.0 385.5,751.5 385.3,751.5 385.1,749.7 384.9,753.0 384.6,753.9 384.4,752.2 384.2,751.7 384.0,753.8 383.7,752.4 383.5,763.3 383.3,753.4 383.1,754.3 382.9,751.1 382.6,755.1 382.4,748.6 382.2,746.4 382.0,744.3 381.7,745.9 381.5,743.6 381.3,753.7 381.1,745.0 380.9,745.8 380.6,746.6 380.4,747.4 380.2,743.9 380.0,745.2 379.7,744.5 379.5,744.2 379.3,745.7 379.1,744.6 378.9,742.3 378.6,741.1 378.4,741.6 378.2,739.7 378.0,738.6 377.7,738.7 377.5,738.0 377.3,737.6 377.1,743.4 376.9,737.6 376.6,739.0 376.4,740.1 376.2,739.4 376.0,741.8 375.7,741.5 375.5,742.4 375.3,743.3 375.1,742.3 374.8,743.5 374.6,742.3 374.4,743.8 374.2,740.4 374.0,739.2 373.7,744.1 373.5,738.8 373.3,739.4 373.1,740.0 372.8,746.3 372.6,742.1 372.4,747.4 372.2,742.3 372.0,744.0 371.7,742.9 371.5,743.8 371.3,744.7 371.1,748.2 370.8,744.4 370.6,743.4 370.4,746.1 370.2,742.0 370.0,741.8 369.7,745.4 369.5,743.5 369.3,742.7 369.1,743.8 368.8,743.0 368.6,744.8 368.4,742.9 368.2,748.4 368.0,750.1 367.7,745.4 367.5,745.2 367.3,747.6 367.1,748.1 366.8,751.4 366.6,748.8 366.4,747.6 366.2,749.3 366.0,750.1 365.7,746.4 365.5,745.0 365.3,744.3 365.1,743.0 364.8,742.5 364.6,745.0 364.4,746.1 364.2,744.6 364.0,746.1 363.7,745.9 363.5,747.0 363.3,746.0 363.1,743.6 362.8,744.4 362.6,744.4 362.4,743.6 362.2,744.5 362.0,747.1 361.7,744.9 361.5,747.3 361.3,746.2 361.1,747.6 360.8,745.4 360.6,747.3 360.4,745.0 360.2,744.0 360.0,750.8 359.7,747.5 359.5,745.2 359.3,743.6 359.1,745.1 358.8,743.0 358.6,745.1 358.4,742.8 358.2,742.4 358.0,746.5 357.7,745.9 357.5,744.3 357.3,741.4 357.1,742.4 356.8,744.1 356.6,743.0 356.4,743.6 356.2,744.3 356.0,742.7 355.7,740.6 355.5,741.3 355.3,741.6 355.1,740.1 354.8,742.0 354.6,740.2 354.4,740.0 354.2,740.9 354.0,739.2 353.7,738.9 353.5,739.4 353.3,743.0 353.1,739.0 352.8,738.9 352.6,739.2 352.4,740.3 352.2,744.6 352.0,741.8 351.7,739.1 351.5,742.0 351.3,742.1 351.1,738.9 350.8,739.8 350.6,741.3 350.4,742.4 350.2,741.3 350.0,743.6 349.7,741.3 349.5,743.0 349.3,741.3 349.1,741.3 348.8,740.9 348.6,740.2 348.4,743.0 348.2,742.1 347.9,743.3 347.7,742.9 347.5,746.2 347.3,745.4 347.1,747.1 346.8,746.4 346.6,746.9 346.4,747.2 346.2,748.5 345.9,743.1 345.7,742.4 345.5,743.6 345.3,744.7 345.1,744.5 344.8,746.3 344.6,745.7 344.4,744.7 344.2,744.3 343.9,743.3 343.7,742.0 343.5,745.0 343.3,744.5 343.1,742.0 342.8,742.0 342.6,743.7 342.4,742.2 342.2,743.9 341.9,741.9 341.7,745.9 341.5,748.2 341.3,748.3 341.1,746.9 340.8,744.6 340.6,746.3 340.4,749.3 340.2,749.3 339.9,747.1 339.7,755.6 339.5,747.6 339.3,748.9 339.1,750.7 338.8,747.9 338.6,752.4 338.4,746.9 338.2,746.8 337.9,747.8 337.7,747.7 337.5,754.2 337.3,749.9 337.1,752.0 336.8,749.1 336.6,752.5 336.4,751.6 336.2,748.8 335.9,755.1 335.7,750.8 335.5,756.2 335.3,751.1 335.1,753.0 334.8,753.8 334.6,751.4 334.4,753.8 334.2,756.5 333.9,751.6 333.7,753.4 333.5,750.8 333.3,753.7 333.1,751.0 332.8,753.0 332.6,753.6 332.4,753.7 332.2,756.7 331.9,755.1 331.7,755.9 331.5,756.0 331.3,755.8 331.1,755.5 330.8,756.8 330.6,756.1 330.4,757.4 330.2,757.0 329.9,761.4 329.7,757.1 329.5,758.7 329.3,756.4 329.1,756.7 328.8,754.4 328.6,753.6 328.4,753.6 328.2,752.1 327.9,755.6 327.7,753.4 327.5,754.2 327.3,753.6 327.1,752.7 326.8,751.0 326.6,754.3 326.4,756.7 326.2,750.6 325.9,750.0 325.7,749.1 325.5,751.1 325.3,748.6 325.1,748.4 324.8,747.2 324.6,750.9 324.4,749.5 324.2,749.6 323.9,749.6 323.7,751.5 323.5,748.4 323.3,748.1 323.1,747.9 322.8,749.8 322.6,748.8 322.4,749.2 322.2,754.9 321.9,749.0 321.7,746.3 321.5,749.3 321.3,747.7 321.0,747.4 320.8,749.1 320.6,747.2 320.4,750.8 320.2,748.4 319.9,749.4 319.7,752.6 319.5,748.8 319.3,748.9 319.0,749.4 318.8,748.3 318.6,748.7 318.4,753.2 318.2,747.3 317.9,746.5 317.7,747.9 317.5,746.3 317.3,745.3 317.0,747.3 316.8,749.6 316.6,746.2 316.4,745.8 316.2,749.4 315.9,747.5 315.7,746.8 315.5,751.0 315.3,744.8 315.0,745.2 314.8,747.1 314.6,743.7 314.4,742.0 314.2,742.4 313.9,743.1 313.7,745.0 313.5,744.6 313.3,745.6 313.0,745.0 312.8,750.2 312.6,745.5 312.4,745.8 312.2,745.7 311.9,746.7 311.7,746.2 311.5,745.2 311.3,746.8 311.0,747.2 310.8,748.4 310.6,748.3 310.4,747.5 310.2,745.3 309.9,747.6 309.7,747.2 309.5,745.9 309.3,745.3 309.0,746.2 308.8,747.2 308.6,752.1 308.4,747.6 308.2,752.8 307.9,745.3 307.7,746.5 307.5,747.9 307.3,746.6 307.0,747.8 306.8,745.8 306.6,745.4 306.4,746.7 306.2,745.6 305.9,745.9 305.7,747.2 305.5,746.9 305.3,746.1 305.0,748.6 304.8,754.2 304.6,751.4 304.4,751.8 304.2,747.7 303.9,747.8 303.7,748.6 303.5,746.7 303.3,746.0 303.0,744.7 302.8,746.0 302.6,746.3 302.4,750.7 302.2,744.7 301.9,743.1 301.7,743.7 301.5,745.9 301.3,746.7 301.0,742.7 300.8,744.0 300.6,744.3 300.4,744.3 300.2,742.4 299.9,744.3 299.7,745.0 299.5,743.0 299.3,743.0 299.0,746.1 298.8,743.8 298.6,743.9 298.4,744.1 298.2,746.4 297.9,746.9 297.7,743.2 297.5,745.9 297.3,745.4 297.0,744.2 296.8,741.3 296.6,742.4 296.4,747.4 296.2,745.5 295.9,741.7 295.7,742.0 295.5,742.6 295.3,740.8 295.0,740.3 294.8,742.7 294.6,741.6 294.4,741.2 294.1,742.4 293.9,741.1 293.7,740.5 293.5,742.0 293.3,740.9 293.0,742.4 292.8,743.9 292.6,742.9 292.4,742.4 292.1,740.9 291.9,740.4 291.7,743.2 291.5,741.3 291.3,742.9 291.0,742.6 290.8,742.2 290.6,748.4 290.4,742.9 290.1,743.5 289.9,742.0 289.7,742.2 289.5,741.3 289.3,741.0 289.0,741.8 288.8,744.8 288.6,744.2 288.4,750.2 288.1,746.1 287.9,745.1 287.7,746.8 287.5,743.3 287.3,746.8 287.0,742.9 286.8,742.5 286.6,744.0 286.4,747.5 286.1,742.6 285.9,744.6 285.7,746.9 285.5,747.6 285.3,744.4 285.0,747.2 284.8,743.3 284.6,745.5 284.4,748.5 284.1,748.1 283.9,744.2 283.7,744.0 283.5,745.2 283.3,744.0 283.0,746.8 282.8,745.7 282.6,745.5 282.4,746.7 282.1,749.7 281.9,748.5 281.7,746.1 281.5,746.5 281.3,746.5 281.0,747.7 280.8,745.1 280.6,743.4 280.4,744.2 280.1,745.3 279.9,742.6 279.7,740.4 279.5,741.2 279.3,743.1 279.0,743.4 278.8,742.5 278.6,743.6 278.4,743.8 278.1,742.6 277.9,741.4 277.7,742.6 277.5,744.6 277.3,746.3 277.0,746.0 276.8,743.0 276.6,744.9 276.4,745.7 276.1,745.3 275.9,744.3 275.7,749.2 275.5,747.4 275.3,742.4 275.0,743.6 274.8,740.7 274.6,740.7 274.4,741.7 274.1,740.6 273.9,740.5 273.7,741.2 273.5,744.4 273.3,742.6 273.0,740.2 272.8,739.2 272.6,739.4 272.4,742.1 272.1,739.5 271.9,739.7 271.7,738.0 271.5,741.5 271.3,739.4 271.0,740.9 270.8,740.6 270.6,739.1 270.4,742.7 270.1,741.8 269.9,740.6 269.7,740.3 269.5,738.4 269.3,739.6 269.0,745.7 268.8,740.5 268.6,742.2 268.4,738.8 268.1,738.1 267.9,737.3 267.7,735.8 267.5,736.5 267.3,739.2 267.0,736.4 266.8,735.5 266.6,738.8 266.4,736.2 266.1,744.9 265.9,737.5 265.7,737.3 265.5,740.5 265.2,736.4 265.0,736.8 264.8,735.1 264.6,735.0 264.4,734.3 264.1,735.1 263.9,732.0 263.7,732.9 263.5,731.4 263.2,733.6 263.0,732.7 262.8,740.4 262.6,734.9 262.4,732.7 262.1,734.7 261.9,734.4 261.7,736.9 261.5,736.8 261.2,733.9 261.0,744.3 260.8,736.1 260.6,734.7 260.4,734.2 260.1,735.8 259.9,736.2 259.7,735.9 259.5,736.0 259.2,733.5 259.0,736.5 258.8,735.5 258.6,734.8 258.4,736.1 258.1,735.0 257.9,735.3 257.7,734.7 257.5,733.7 257.2,731.5 257.0,732.7 256.8,735.6 256.6,735.4 256.4,734.3 256.1,734.2 255.9,736.6 255.7,734.7 255.5,736.7 255.2,735.5 255.0,738.9 254.8,739.8 254.6,735.1 254.4,736.1 254.1,737.7 253.9,735.7 253.7,735.2 253.5,734.3 253.2,734.3 253.0,736.8 252.8,737.1 252.6,736.0 252.4,736.2 252.1,738.5 251.9,740.6 251.7,737.2 251.5,738.4 251.2,737.0 251.0,738.2 250.8,738.9 250.6,739.6 250.4,739.5 250.1,738.4 249.9,739.8 249.7,740.9 249.5,741.9 249.2,745.2 249.0,738.5 248.8,741.1 248.6,739.3 248.4,741.1 248.1,743.8 247.9,740.1 247.7,745.1 247.5,741.2 247.2,740.3 247.0,739.0 246.8,738.5 246.6,741.3 246.4,744.0 246.1,739.3 245.9,739.7 245.7,740.5 245.5,743.3 245.2,741.3 245.0,746.6 244.8,741.6 244.6,744.3 244.4,742.7 244.1,744.9 243.9,744.1 243.7,747.1 243.5,744.2 243.2,745.4 243.0,744.6 242.8,743.7 242.6,746.4 242.4,741.1 242.1,743.2 241.9,739.5 241.7,739.8 241.5,740.1 241.2,740.4 241.0,741.7 240.8,738.3 240.6,739.0 240.4,739.2 240.1,741.4 239.9,737.7 239.7,745.4 239.5,740.4 239.2,740.0 239.0,737.3 238.8,738.1 238.6,735.5 238.3,735.1 238.1,733.6 237.9,732.9 237.7,731.8 237.5,732.6 237.2,731.9 237.0,731.3 236.8,728.7 236.6,729.4 236.3,739.7 236.1,729.5 235.9,729.2 235.7,728.8 235.5,727.8 235.2,727.4 235.0,727.8 234.8,728.2 234.6,731.2 234.3,733.2 234.1,727.4 233.9,727.5 233.7,727.5 233.5,731.1 233.2,726.5 233.0,726.0 232.8,726.8 232.6,727.9 232.3,729.0 232.1,727.9 231.9,729.8 231.7,728.8 231.5,726.4 231.2,724.5 231.0,729.4 230.8,724.8 230.6,727.3 230.3,726.4 230.1,727.4 229.9,725.3 229.7,725.1 229.5,725.7 229.2,730.2 229.0,725.4 228.8,724.7 228.6,729.7 228.3,724.7 228.1,726.5 227.9,724.6 227.7,722.9 227.5,721.9 227.2,723.4 227.0,722.3 226.8,722.4 226.6,721.9 226.3,722.7 226.1,723.2 225.9,728.2 225.7,725.3 225.5,722.5 225.2,722.6 225.0,726.2 224.8,725.3 224.6,725.9 224.3,726.7 224.1,726.3 223.9,725.2 223.7,725.2 223.5,724.6 223.2,723.9 223.0,728.4 222.8,725.8 222.6,726.8 222.3,728.6 222.1,730.0 221.9,727.7 221.7,728.4 221.5,728.2 221.2,731.1 221.0,734.0 220.8,731.1 220.6,730.2 220.3,733.6 220.1,733.9 219.9,733.8 219.7,737.0 219.5,734.3 219.2,731.9 219.0,732.6 218.8,732.5 218.6,734.8 218.3,735.0 218.1,733.2 217.9,732.5 217.7,736.2 217.5,734.7 217.2,734.4 217.0,733.9 216.8,732.6 216.6,732.8 216.3,733.2 216.1,733.0 215.9,732.8 215.7,731.8 215.5,731.1 215.2,731.7 215.0,733.3 214.8,730.4 214.6,729.1 214.3,729.0 214.1,731.0 213.9,731.1 213.7,731.7 213.5,730.7 213.2,729.0 213.0,728.6 212.8,729.9 212.6,729.6 212.3,732.0 212.1,728.3 211.9,728.2 211.7,727.2 211.4,729.1 211.2,729.3 211.0,726.3 210.8,727.4 210.6,727.4 210.3,733.1 210.1,729.2 209.9,725.2 209.7,724.4 209.4,724.8 209.2,725.7 209.0,727.1 208.8,728.6 208.6,725.2 208.3,725.4 208.1,725.1 207.9,725.0 207.7,724.3 207.4,725.0 207.2,724.8 207.0,726.2 206.8,725.4 206.6,726.3 206.3,726.2 206.1,725.4 205.9,725.6 205.7,726.2 205.4,726.0 205.2,724.3 205.0,731.6 204.8,727.7 204.6,727.3 204.3,729.1 204.1,728.2 203.9,728.7 203.7,728.5 203.4,728.4 203.2,728.7 203.0,725.3 202.8,724.3 202.6,725.3 202.3,724.6 202.1,724.1 201.9,723.7 201.7,725.3 201.4,723.5 201.2,723.4 201.0,725.5 200.8,726.7 200.6,724.7 200.3,724.7 200.1,723.6 199.9,725.6 199.7,725.5 199.4,727.9 199.2,732.1 199.0,732.5 198.8,733.4 198.6,731.5 198.3,729.3 198.1,728.9 197.9,729.5 197.7,726.6 197.4,728.5 197.2,727.8 197.0,726.4 196.8,729.8 196.6,730.3 196.3,726.8 196.1,727.2 195.9,727.7 195.7,736.8 195.4,729.9 195.2,733.5 195.0,730.5 194.8,729.9 194.6,729.5 194.3,725.8 194.1,727.3 193.9,726.6 193.7,727.6 193.4,730.4 193.2,727.8 193.0,731.6 192.8,732.9 192.6,731.0 192.3,731.5 192.1,729.9 191.9,729.5 191.7,732.4 191.4,731.6 191.2,741.6 191.0,733.7 190.8,736.4 190.6,733.1 190.3,735.1 190.1,733.7 189.9,734.5 189.7,731.6 189.4,730.8 189.2,730.7 189.0,731.5 188.8,732.1 188.6,732.0 188.3,733.1 188.1,740.1 187.9,732.9 187.7,736.7 187.4,733.5 187.2,733.8 187.0,738.0 186.8,734.5 186.6,733.2 186.3,734.8 186.1,735.3 185.9,734.9 185.7,739.5 185.4,734.3 185.2,735.0 185.0,733.0 184.8,733.7 184.5,734.8 184.3,735.5 184.1,734.6 183.9,733.8 183.7,736.0 183.4,734.9 183.2,736.4 183.0,733.0 182.8,734.4 182.5,733.1 182.3,733.9 182.1,735.4 181.9,733.7 181.7,734.3 181.4,737.9 181.2,735.3 181.0,735.6 180.8,733.6 180.5,733.2 180.3,732.6 180.1,732.3 179.9,730.9 179.7,734.3 179.4,731.2 179.2,732.8 179.0,730.3 178.8,733.8 178.5,729.4 178.3,729.6 178.1,730.2 177.9,728.8 177.7,727.9 177.4,728.6 177.2,730.5 177.0,730.3 176.8,729.9 176.5,730.7 176.3,731.4 176.1,731.3 175.9,732.6 175.7,732.4 175.4,733.7 175.2,735.4 175.0,734.4 174.8,733.7 174.5,734.8 174.3,733.1 174.1,733.0 173.9,733.8 173.7,734.2 173.4,735.7 173.2,734.9 173.0,738.3 172.8,734.6 172.5,736.4 172.3,736.4 172.1,736.3 171.9,737.7 171.7,736.3 171.4,736.5 171.2,737.2 171.0,738.7 170.8,741.4 170.5,739.6 170.3,742.1 170.1,743.1 169.9,741.4 169.7,739.4 169.4,740.1 169.2,738.8 169.0,738.1 168.8,741.5 168.5,740.2 168.3,739.6 168.1,743.8 167.9,742.9 167.7,744.5 167.4,743.8 167.2,742.4 167.0,739.6 166.8,740.6 166.5,742.5 166.3,742.6 166.1,740.1 165.9,741.8 165.7,748.9 165.4,740.2 165.2,739.8 165.0,740.5 164.8,742.3 164.5,747.2 164.3,740.0 164.1,739.0 163.9,737.8 163.7,738.9 163.4,740.8 163.2,742.1 163.0,742.7 162.8,744.1 162.5,742.6 162.3,742.7 162.1,742.7 161.9,741.0 161.7,743.5 161.4,743.3 161.2,742.0 161.0,745.3 160.8,743.9 160.5,741.0 160.3,742.5 160.1,741.8 159.9,741.2 159.7,739.9 159.4,740.9 159.2,742.4 159.0,747.9 158.8,740.8 158.5,740.8 158.3,739.9 158.1,745.1 157.9,742.7 157.7,741.7 157.4,739.4 157.2,739.9 157.0,740.5 156.8,742.3 156.5,741.7 156.3,741.7 156.1,740.2 155.9,740.1 155.6,745.0 155.4,741.4 155.2,744.5 155.0,740.6 154.8,747.1 154.5,741.9 154.3,739.5 154.1,742.2 153.9,741.3 153.6,741.9 153.4,743.0 153.2,740.4 153.0,742.2 152.8,741.9 152.5,747.6 152.3,742.4 152.1,742.2 151.9,742.0 151.6,741.5 151.4,740.3 151.2,738.0 151.0,740.1 150.8,741.0 150.5,743.8 150.3,741.7 150.1,742.2 149.9,740.9 149.6,743.4 149.4,745.2 149.2,742.6 149.0,750.1 148.8,746.2 148.5,741.4 148.3,741.3 148.1,741.6 147.9,742.6 147.6,742.3 147.4,741.4 147.2,748.0 147.0,743.1 146.8,742.4 146.5,744.7 146.3,744.5 146.1,743.9 145.9,745.4 145.6,743.9 145.4,746.1 145.2,745.7 145.0,746.4 144.8,749.0 144.5,744.8 144.3,741.7 144.1,741.1 143.9,740.9 143.6,742.2 143.4,742.2 143.2,746.1 143.0,742.8 142.8,739.3 142.5,741.0 142.3,742.1 142.1,742.7 141.9,742.4 141.6,743.2 141.4,748.8 141.2,740.6 141.0,741.5 140.8,744.3 140.5,745.3 140.3,742.6 140.1,749.2 139.9,745.0 139.6,743.3 139.4,740.8 139.2,739.9 139.0,743.3 138.8,743.0 138.5,739.1 138.3,738.8 138.1,740.1 137.9,741.1 137.6,739.7 137.4,742.3 137.2,742.5 137.0,743.3 136.8,744.1 136.5,745.7 136.3,747.4 136.1,749.2 135.9,750.0 135.6,747.2 135.4,749.8 135.2,750.6 135.0,747.5 134.8,747.3 134.5,748.3 134.3,752.0 134.1,748.5 133.9,748.9 133.6,750.0 133.4,750.4 133.2,751.9 133.0,749.7 132.8,750.3 132.5,749.2 132.3,748.6 132.1,748.9 131.9,749.2 131.6,751.8 131.4,751.6 131.2,754.0 131.0,751.9 130.8,753.1 130.5,751.5 130.3,754.9 130.1,753.8 129.9,754.5 129.6,751.2 129.4,749.1 129.2,748.8 129.0,747.1 128.7,748.9 128.5,748.3 128.3,749.1 128.1,751.4 127.9,750.3 127.6,748.2 127.4,751.4 127.2,749.9 127.0,749.5 126.7,749.2 126.5,753.5 126.3,751.1 126.1,752.7 125.9,751.6 125.6,757.1 125.4,753.1 125.2,752.8 125.0,752.7 124.7,750.3 124.5,751.0 124.3,752.7 124.1,754.9 123.9,753.4 123.6,752.9 123.4,751.9 123.2,750.3 123.0,754.8 122.7,751.0 122.5,751.9 122.3,750.9 122.1,750.3 121.9,751.4 121.6,750.1 121.4,751.5 121.2,754.9 121.0,749.4 120.7,753.8 120.5,754.1 120.3,749.2 120.1,752.1 119.9,750.9 119.6,752.0 119.4,757.5 119.2,752.4 119.0,751.5 118.7,749.6 118.5,749.4 118.3,749.8 118.1,749.5 117.9,751.4 117.6,750.9 117.4,753.1 117.2,750.5 117.0,752.4 116.7,751.0 116.5,750.5 116.3,751.1" fill="#6ea2d3" stroke="none"/>
<line x1="109.80" y1="801.00" x2="115.80" y2="801.00" stroke="#000" stroke-width="2" />
<line x1="112.80" y1="765.06" x2="115.80" y2="765.06" stroke="#000" stroke-width="2" />
<line x1="109.80" y1="729.12" x2="115.80" y2="729.12" stroke="#000" stroke-width="2" />
<line x1="112.80" y1="693.19" x2="115.80" y2="693.19" stroke="#000" stroke-width="2" />
<line x1="109.80" y1="657.25" x2="115.80" y2="657.25" stroke="#000" stroke-width="2" />
<line x1="112.80" y1="621.31" x2="115.80" y2="621.31" stroke="#000" stroke-width="2" />
<line x1="109.80" y1="585.38" x2="115.80" y2="585.38" stroke="#000" stroke-width="2" />
<line x1="112.80" y1="549.44" x2="115.80" y2="549.44" stroke="#000" stroke-width="2" />
<line x1="109.80" y1="513.50" x2="115.80" y2="513.50" stroke="#000" stroke-width="2" />
<text x="34.98" y="525.70" font-size="29.2" fill="#000" >4000</text>
<text x="35.08" y="597.40" font-size="29.2" fill="#000" >3000</text>
<text x="35.08" y="669.80" font-size="29.2" fill="#000" >2000</text>
<path class="one" transform="translate(35.08,740.40) scale(0.01426,-0.01426)" d="M515,0 L515,1237 L197,1010 L197,1180 L530,1409 L696,1409 L696,0 Z" fill="#000" vector-effect="non-scaling-stroke"/>
<text x="51.32" y="740.40" font-size="29.2" fill="#000" >000</text>
<text x="86.20" y="808.10" font-size="29.2" fill="#000" >0</text>
<line x1="115.80" y1="801.00" x2="115.80" y2="807.00" stroke="#000" stroke-width="2" />
<line x1="145.55" y1="801.00" x2="145.55" y2="804.00" stroke="#000" stroke-width="2" />
<line x1="175.30" y1="801.00" x2="175.30" y2="807.00" stroke="#000" stroke-width="2" />
<line x1="205.05" y1="801.00" x2="205.05" y2="804.00" stroke="#000" stroke-width="2" />
<line x1="234.80" y1="801.00" x2="234.80" y2="807.00" stroke="#000" stroke-width="2" />
<line x1="264.55" y1="801.00" x2="264.55" y2="804.00" stroke="#000" stroke-width="2" />
<line x1="294.30" y1="801.00" x2="294.30" y2="807.00" stroke="#000" stroke-width="2" />
<line x1="324.05" y1="801.00" x2="324.05" y2="804.00" stroke="#000" stroke-width="2" />
<line x1="353.80" y1="801.00" x2="353.80" y2="807.00" stroke="#000" stroke-width="2" />
<line x1="383.55" y1="801.00" x2="383.55" y2="804.00" stroke="#000" stroke-width="2" />
<line x1="413.30" y1="801.00" x2="413.30" y2="807.00" stroke="#000" stroke-width="2" />
<line x1="443.05" y1="801.00" x2="443.05" y2="804.00" stroke="#000" stroke-width="2" />
<line x1="472.80" y1="801.00" x2="472.80" y2="807.00" stroke="#000" stroke-width="2" />
<text x="111.16" y="842.00" font-size="29.2" fill="#000" >0</text>
<text x="159.03" y="842.00" font-size="29.2" fill="#000" >50</text>
<path class="one" transform="translate(210.89,841.80) scale(0.01426,-0.01426)" d="M515,0 L515,1237 L197,1010 L197,1180 L530,1409 L696,1409 L696,0 Z" fill="#000" vector-effect="non-scaling-stroke"/>
<text x="227.13" y="841.80" font-size="29.2" fill="#000" >00</text>
<path class="one" transform="translate(267.99,841.80) scale(0.01426,-0.01426)" d="M515,0 L515,1237 L197,1010 L197,1180 L530,1409 L696,1409 L696,0 Z" fill="#000" vector-effect="non-scaling-stroke"/>
<text x="284.23" y="841.80" font-size="29.2" fill="#000" >50</text>
<text x="327.93" y="841.50" font-size="29.2" fill="#000" >200</text>
<text x="387.13" y="843.00" font-size="29.2" fill="#000" >250</text>
<text x="447.29" y="841.50" font-size="29.2" fill="#000" >300</text>
<rect x="115.80" y="513.50" width="357.00" height="287.50" fill="none" stroke="#000" stroke-width="2"/>
<text x="233.16" y="881.60" font-size="28.5" fill="#000" >Time (s)</text>
<text transform="translate(21.20,734.53) rotate(-90) scale(1.1336,1)" font-size="29.5" fill="#000" font-style="italic">K</text>
<text transform="translate(30.40,713.50) rotate(-90) scale(1.0448,1)" font-size="18.0" fill="#000">contact</text>
<text transform="translate(21.20,652.17) rotate(-90) scale(1.1449,1)" font-size="29.2" fill="#000">(N/m)</text>
<rect x="254.9" y="529.0" width="202.8" height="142.3" rx="8" ry="8" fill="#fff" stroke="#000" stroke-width="1.5"/>
<path d="M348.8,589 C347.6,611 356,633.4 365.7,633.4 C377,633.4 389,612 391.8,594" fill="#fff" stroke="#000" stroke-width="1.3"/>
<polygon points="335.70,570.60 407.50,580.60 405.50,596.20 333.40,586.40" fill="#fff" stroke="#000" stroke-width="1.4" />
<path d="M293.6,627.6 C295,626 300,625.5 305,625.3 C320,625.3 333,626 343.1,627.6 C350,629.5 356,632.3 361,633.2 C364,633.6 367,633.6 370,633.2 C376,632.2 382,630 388.3,628.3 C396,626.6 405,626.3 415,626.3 L435.1,626.3" fill="none" stroke="#000" stroke-width="1.3"/>
<path d="M301.6,636.0 C320,635.6 335,636.2 347.6,638.3 C355,640 360,642.2 365.7,642.4 C372,642.2 378,640 388.3,637.6 C398,636.5 410,636.4 435.1,636.4" fill="none" stroke="#000" stroke-width="1.3" stroke-dasharray="4.5,3.5"/>
<path d="M370.4,541.8 L378.2,549.6 L373.9,549.6 L373.9,565.4 L378.2,565.4 L370.4,573.2 L362.59999999999997,565.4 L366.9,565.4 L366.9,549.6 L362.59999999999997,549.6 Z" fill="#fff" stroke="#000" stroke-width="1.4" stroke-linejoin="miter"/>
<line x1="294.00" y1="627.20" x2="294.00" y2="636.00" stroke="#000" stroke-width="1.1" />
<polyline points="290.60,629.80 294.00,626.80 297.40,629.80" fill="none" stroke="#000" stroke-width="1.1" />
<polyline points="290.60,633.40 294.00,636.40 297.40,633.40" fill="none" stroke="#000" stroke-width="1.1" />
<text x="326.82" y="564.30" font-size="19.5" fill="#000" >Δ</text>
<text x="340.50" y="564.30" font-size="19.5" fill="#000" font-style="italic" >F</text>
<text x="351.74" y="571.50" font-size="11.5" fill="#000" >n</text>
<text x="260.82" y="636.40" font-size="19.5" fill="#000" >Δ</text>
<text x="273.21" y="636.40" font-size="19.5" fill="#000" font-style="italic" >z</text>
<text x="325.40" y="662.60" font-size="19.5" fill="#000" font-style="italic" >K</text>
<text x="339.15" y="662.60" font-size="19.5" fill="#000" >=</text>
<text x="350.82" y="662.60" font-size="19.5" fill="#000" >Δ</text>
<text x="362.80" y="662.60" font-size="19.5" fill="#000" font-style="italic" >F</text>
<text x="375.74" y="668.40" font-size="11.5" fill="#000" >n</text>
<text x="382.80" y="662.60" font-size="19.5" fill="#000" >/</text>
<text x="387.72" y="662.60" font-size="19.5" fill="#000" >Δ</text>
<text x="401.51" y="662.60" font-size="19.5" fill="#000" font-style="italic" >z</text>
</svg>
</body></html>
